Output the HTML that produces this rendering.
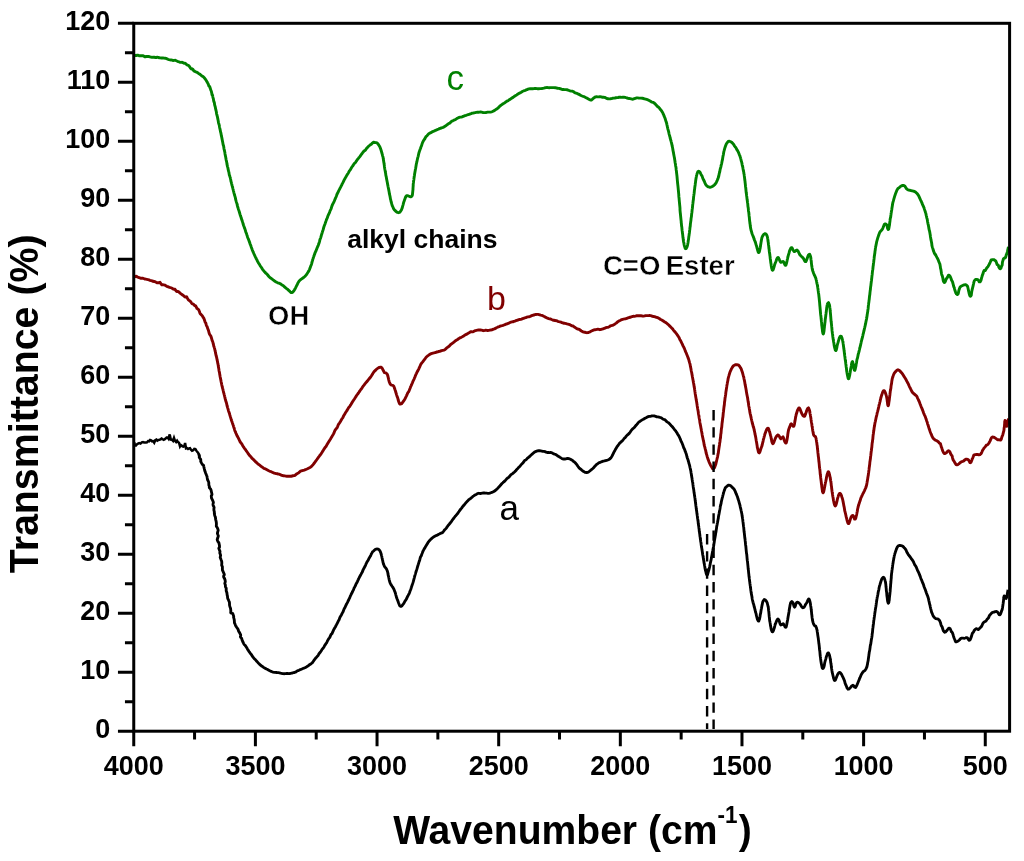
<!DOCTYPE html>
<html lang="en"><head><meta charset="utf-8"><title>FTIR spectra</title>
<style>html,body{margin:0;padding:0;background:#fff}body{width:1024px;height:861px;overflow:hidden}svg{display:block}</style>
</head><body>
<svg width="1024" height="861" viewBox="0 0 1024 861">
<rect width="1024" height="861" fill="#fff"/>
<g fill="none" stroke-linejoin="round" stroke-linecap="butt">
<path d="M134.2 55.0L134.8 55.3L135.5 55.5L136.3 55.6L137.2 55.2L138.2 55.2L139.2 55.8L140.4 55.8L141.5 55.6L142.7 55.7L143.9 56.2L145.1 56.9L146.3 56.5L147.5 56.4L148.7 56.5L149.9 56.8L151.0 57.1L152.0 57.4L153.0 57.3L154.1 57.2L155.2 57.5L156.2 57.5L157.3 57.3L158.3 57.4L159.3 57.8L160.2 57.9L161.2 58.0L162.2 58.0L163.1 58.0L164.1 58.1L165.1 58.2L166.0 58.4L167.0 58.8L168.0 59.3L169.0 59.6L170.0 59.8L171.1 60.0L172.1 60.2L173.2 60.5L174.2 60.4L175.3 60.3L176.3 60.8L177.4 61.3L178.4 61.6L179.4 62.0L180.3 62.4L181.3 62.4L182.1 62.3L183.0 62.7L184.0 63.2L185.0 63.3L185.9 63.8L186.8 64.8L187.6 65.2L188.4 65.4L189.2 66.2L189.9 67.2L190.7 68.4L191.5 69.0L192.2 68.8L193.0 69.4L193.9 70.9L194.9 71.4L195.8 71.8L196.7 72.1L197.6 72.7L198.5 73.4L199.4 73.9L200.2 74.5L201.0 75.2L201.8 75.9L202.5 76.3L203.3 76.8L204.0 77.5L204.7 78.3L205.3 79.1L205.9 79.9L206.5 80.9L207.1 82.1L207.7 83.1L208.1 83.7L208.5 84.9L208.9 86.1L209.2 86.3L209.6 86.4L209.9 87.4L210.3 88.4L210.6 89.4L210.9 90.4L211.3 91.1L211.7 92.8L212.0 94.9L212.4 94.8L212.6 95.6L212.8 96.8L213.0 97.8L213.3 98.6L213.5 99.7L213.7 101.0L213.9 101.8L214.1 101.9L214.4 102.9L214.6 104.7L214.8 105.5L215.0 106.0L215.3 107.1L215.5 108.2L215.7 109.2L215.9 110.2L216.2 111.2L216.4 112.3L216.6 113.8L216.9 115.0L217.1 115.6L217.3 116.4L217.6 117.7L217.8 118.9L218.0 119.8L218.2 120.7L218.4 121.9L218.6 123.1L218.8 123.8L219.0 124.4L219.3 125.4L219.5 126.7L219.7 127.8L219.9 128.6L220.1 129.5L220.3 130.6L220.5 131.7L220.8 132.6L221.0 133.6L221.2 134.7L221.4 135.9L221.6 136.7L221.8 137.6L222.0 138.6L222.2 139.7L222.4 140.7L222.6 141.8L222.8 142.8L223.0 143.9L223.2 144.9L223.4 145.4L223.6 146.0L223.8 147.3L224.0 148.8L224.3 149.9L224.5 150.9L224.7 151.8L224.9 152.7L225.0 153.7L225.2 154.8L225.4 155.8L225.6 156.7L225.8 157.7L226.0 158.9L226.2 160.1L226.4 160.9L226.6 161.7L226.8 162.7L226.9 163.6L227.1 164.6L227.3 165.6L227.5 166.6L227.8 167.5L228.0 168.6L228.2 169.6L228.4 170.5L228.6 171.4L228.9 172.3L229.1 173.6L229.3 174.9L229.6 175.6L229.8 176.2L230.0 176.9L230.3 177.7L230.5 178.8L230.8 180.2L231.0 181.4L231.3 182.4L231.5 183.3L231.8 184.4L232.0 185.4L232.3 186.3L232.5 187.2L232.8 188.2L233.0 189.1L233.3 190.1L233.5 191.1L233.8 192.1L234.0 193.1L234.3 194.1L234.5 195.0L234.8 195.9L235.1 196.9L235.4 197.9L235.6 199.2L235.9 200.4L236.2 201.3L236.4 202.1L236.7 203.0L237.0 203.8L237.2 204.9L237.5 206.2L237.8 207.3L238.1 208.1L238.3 208.9L238.6 209.8L238.9 210.6L239.2 211.5L239.5 212.5L239.8 213.6L240.1 214.7L240.4 215.6L240.7 216.4L241.0 217.3L241.3 218.3L241.6 219.2L241.9 220.2L242.3 221.1L242.6 222.2L242.9 223.2L243.2 224.3L243.6 225.5L243.9 226.3L244.2 227.1L244.5 228.0L244.9 228.8L245.2 229.8L245.5 230.9L245.8 232.0L246.2 232.9L246.5 233.7L246.8 234.7L247.2 235.8L247.5 236.9L247.9 238.0L248.3 238.9L248.7 239.8L249.0 240.8L249.4 241.9L249.8 242.9L250.1 244.0L250.5 244.9L250.9 245.8L251.2 246.9L251.6 248.0L252.0 249.1L252.3 250.0L252.7 250.9L253.0 251.7L253.4 252.4L253.7 253.2L254.2 254.4L254.7 255.5L255.2 256.6L255.7 257.5L256.1 258.5L256.6 259.4L257.1 260.3L257.5 261.2L258.0 262.1L258.5 263.0L259.0 263.8L259.5 264.6L260.1 265.6L260.7 266.5L261.3 267.3L261.9 268.2L262.5 269.3L263.2 270.2L263.8 271.0L264.5 271.7L265.1 272.4L265.8 273.1L266.5 273.7L267.3 274.5L268.1 275.5L268.9 276.5L269.7 277.4L270.6 278.1L271.4 278.6L272.2 279.2L273.0 279.8L273.8 280.4L274.6 281.0L275.7 281.7L276.7 282.3L277.7 282.8L278.7 283.1L279.7 283.4L280.7 284.0L281.6 284.7L282.5 285.2L283.4 285.7L284.2 286.6L285.1 287.4L285.9 288.0L286.6 288.6L287.4 289.2L288.4 290.1L289.3 290.9L290.2 291.8L291.1 292.5L292.0 292.6L292.6 292.2L293.2 291.6L293.9 290.8L294.5 289.8L295.1 288.7L295.7 287.6L296.2 286.5L296.7 285.6L297.3 284.6L297.6 283.8L297.9 283.0L298.4 282.2L299.0 281.2L299.7 280.5L300.4 279.8L301.3 279.1L302.2 278.5L303.1 277.8L304.0 277.2L304.8 276.5L305.4 275.9L306.1 275.1L306.6 274.4L307.2 273.5L307.8 272.5L308.4 271.7L308.9 270.8L309.5 269.5L309.8 268.6L310.2 267.7L310.5 266.8L310.8 265.9L311.2 265.1L311.5 264.1L311.8 263.0L312.1 261.8L312.5 260.5L312.8 259.4L313.1 258.5L313.4 257.5L313.8 256.5L314.1 255.5L314.5 254.4L314.9 253.4L315.2 252.5L315.6 251.7L316.0 250.9L316.3 250.1L316.7 249.0L317.1 247.9L317.5 247.0L317.9 246.2L318.3 245.2L318.7 244.1L319.0 243.2L319.3 242.3L319.6 241.3L319.8 240.2L320.1 239.1L320.5 238.3L320.8 237.4L321.1 236.3L321.4 235.1L321.7 234.2L322.0 233.3L322.3 232.3L322.6 231.2L323.0 230.2L323.3 229.1L323.6 228.0L323.9 226.9L324.2 226.0L324.5 225.2L324.9 224.2L325.2 223.4L325.5 222.4L325.9 221.3L326.2 220.4L326.5 219.6L326.8 218.9L327.2 218.1L327.5 217.2L327.8 216.3L328.2 215.3L328.6 214.4L329.0 213.6L329.5 212.6L330.0 211.1L330.3 210.3L330.7 209.7L331.0 209.0L331.4 207.7L331.8 206.4L332.2 205.4L332.6 204.4L333.0 203.6L333.4 203.0L333.8 202.1L334.3 201.1L334.7 200.0L335.2 198.9L335.6 197.8L336.1 196.8L336.5 195.7L336.9 194.5L337.4 193.5L337.8 192.7L338.3 191.8L338.7 190.8L339.2 189.9L339.6 189.1L340.0 188.3L340.5 187.4L341.0 186.4L341.5 185.4L342.0 184.3L342.5 183.4L343.0 182.4L343.5 181.3L344.0 180.3L344.5 179.4L345.0 178.5L345.5 177.6L346.0 176.8L346.5 175.9L347.0 175.0L347.5 174.2L348.0 173.5L348.5 172.6L349.0 171.6L349.5 170.7L350.0 170.2L350.6 169.4L351.2 168.2L351.8 167.1L352.4 166.4L352.9 165.8L353.5 164.8L354.1 163.8L354.7 163.1L355.3 162.6L355.9 161.8L356.5 160.9L357.1 160.0L357.6 159.3L358.2 158.6L358.8 157.8L359.4 157.1L360.0 156.3L360.7 155.3L361.4 154.4L362.1 153.5L362.8 152.5L363.5 151.6L364.2 150.9L365.0 150.5L365.7 149.7L366.4 148.7L367.0 147.9L367.7 147.2L368.3 146.5L368.9 146.0L369.5 145.5L370.0 145.1L371.3 144.3L372.4 143.1L373.3 142.3L374.2 142.3L375.0 142.5L376.0 142.6L377.0 142.9L377.8 143.7L378.8 145.1L379.1 145.6L379.5 146.2L379.9 146.9L380.3 148.0L380.7 149.1L381.1 150.3L381.5 151.6L381.8 152.8L382.2 154.1L382.5 155.3L382.7 156.1L382.9 156.7L383.1 157.4L383.2 158.4L383.4 159.4L383.5 160.4L383.7 161.4L383.8 162.3L384.0 163.2L384.1 164.1L384.3 165.2L384.4 166.4L384.6 167.7L384.8 169.0L385.0 170.1L385.2 170.9L385.3 171.8L385.5 172.7L385.7 173.8L385.8 175.0L386.0 175.8L386.2 176.6L386.4 177.7L386.6 178.9L386.8 180.0L387.0 181.0L387.2 182.0L387.4 183.1L387.6 184.1L387.8 185.2L388.0 186.3L388.2 187.2L388.4 188.2L388.6 189.1L388.8 190.1L389.0 191.2L389.2 192.3L389.4 193.7L389.7 195.0L389.9 195.8L390.1 196.8L390.3 198.0L390.5 199.2L390.8 200.2L391.0 201.2L391.2 202.1L391.5 202.9L391.7 203.9L392.0 204.8L392.2 205.6L392.5 206.2L393.1 207.5L393.7 208.9L394.3 209.8L395.0 210.4L395.7 211.1L396.3 211.7L396.9 212.1L397.5 212.4L398.5 212.7L399.5 212.4L400.4 211.5L401.2 210.2L401.6 209.5L401.9 208.6L402.3 207.6L402.6 206.4L403.0 205.1L403.3 203.8L403.6 202.6L403.9 201.7L404.2 200.9L404.5 200.1L405.0 198.7L405.4 197.5L405.9 196.5L406.4 195.9L407.0 195.6L407.9 195.7L409.0 196.2L410.1 196.7L411.2 196.7L412.0 195.9L412.2 195.4L412.4 194.9L412.5 194.1L412.6 193.2L412.7 192.1L412.8 191.2L412.9 190.2L413.0 189.3L413.0 188.3L413.1 187.0L413.2 185.6L413.2 184.6L413.3 183.6L413.5 182.2L413.6 180.9L413.8 180.0L413.9 179.2L414.0 178.2L414.2 177.1L414.3 176.1L414.5 175.2L414.6 174.1L414.8 172.9L415.0 171.8L415.2 170.8L415.3 169.9L415.5 169.0L415.7 167.9L415.9 166.8L416.1 165.6L416.3 164.3L416.5 163.3L416.7 162.5L416.9 161.7L417.1 160.8L417.3 159.8L417.5 158.8L417.8 157.5L418.1 156.6L418.3 155.7L418.6 154.3L418.9 153.0L419.2 152.0L419.5 151.1L419.8 150.2L420.1 149.4L420.5 148.5L420.8 147.5L421.1 146.6L421.5 145.8L421.8 144.8L422.1 143.8L422.5 142.8L423.0 141.6L423.6 140.5L424.1 139.7L424.7 139.0L425.2 138.0L425.8 136.9L426.4 136.3L427.0 135.7L427.7 134.9L428.3 134.2L429.0 133.5L429.9 133.1L430.8 132.7L431.7 132.1L432.7 131.6L433.7 131.2L434.7 130.8L435.6 130.3L436.6 129.9L437.5 129.5L438.5 129.1L439.4 128.7L440.3 128.3L441.2 128.0L442.1 127.7L443.1 127.3L444.0 126.9L445.0 126.3L445.8 125.8L446.6 125.2L447.5 124.5L448.3 123.8L449.1 123.4L450.0 122.9L450.9 122.0L451.8 121.2L452.8 120.8L453.8 120.3L454.6 119.9L455.5 119.5L456.4 118.9L457.3 118.3L458.3 117.8L459.2 117.4L460.2 117.1L461.2 117.1L462.1 116.9L463.1 116.4L464.1 116.0L465.0 115.7L466.0 115.4L467.0 115.0L468.1 114.6L469.1 114.3L470.1 114.0L471.1 113.6L472.2 113.1L473.2 113.0L474.2 112.8L475.2 112.6L476.2 112.4L477.3 112.3L478.4 112.3L479.5 112.1L480.6 111.9L481.6 112.1L482.7 112.5L483.8 112.6L484.8 112.6L485.8 112.5L486.7 112.3L487.5 112.1L488.8 112.1L489.8 112.1L490.6 112.1L491.5 111.9L492.5 111.5L493.8 110.9L494.4 110.4L495.2 109.9L495.9 109.4L496.7 108.9L497.5 108.4L498.4 107.6L499.3 106.7L500.2 105.9L501.1 105.1L502.0 104.5L503.0 103.8L504.0 103.3L505.0 102.6L505.8 101.9L506.6 101.3L507.5 100.9L508.4 100.4L509.3 99.8L510.2 99.2L511.2 98.6L512.1 97.9L513.1 97.4L514.0 96.7L514.9 96.0L515.8 95.4L516.7 94.9L517.6 94.3L518.4 93.8L519.2 93.3L520.0 92.9L521.2 92.2L522.3 91.5L523.4 91.0L524.4 90.6L525.3 90.3L526.2 89.9L527.2 89.5L528.1 89.2L529.0 88.9L530.0 88.8L531.0 88.8L531.9 88.7L532.9 88.7L533.8 88.6L534.8 88.5L535.7 88.4L536.7 88.6L537.7 88.7L538.8 88.7L540.0 88.6L540.9 88.6L541.8 88.5L542.8 88.3L543.8 88.1L544.9 87.8L546.0 87.6L547.0 87.5L548.1 87.6L549.2 87.7L550.2 87.6L551.2 87.6L552.2 87.6L553.1 87.6L554.0 87.6L555.3 87.7L556.4 87.9L557.5 88.3L558.6 88.4L559.6 88.5L560.6 88.8L561.5 89.2L562.4 89.5L563.4 89.5L564.6 89.6L565.8 89.6L566.9 89.7L568.0 90.1L569.1 90.5L570.1 90.9L571.2 91.1L572.2 91.1L573.2 91.5L574.2 92.2L575.1 92.8L576.1 93.1L577.1 93.4L578.0 93.9L579.0 94.4L580.0 94.9L581.0 95.5L582.1 96.0L583.2 96.4L584.2 96.7L585.2 97.2L586.1 97.7L586.9 98.1L588.3 98.9L589.4 99.6L590.4 100.0L591.4 100.0L592.2 99.4L593.0 98.7L593.7 98.0L594.6 97.4L595.6 96.9L596.6 96.8L597.7 96.9L598.8 96.9L600.0 96.6L601.3 96.9L602.5 97.3L603.6 97.3L604.7 97.4L605.8 97.9L606.9 98.5L608.0 98.8L609.2 98.9L610.3 98.8L611.4 98.6L612.5 98.3L613.6 98.1L614.8 98.0L615.9 97.8L617.0 97.6L618.1 97.5L619.2 97.3L620.4 97.2L621.6 97.4L622.7 97.3L623.9 97.2L625.0 97.4L626.0 97.7L627.1 98.0L628.1 98.3L629.1 98.5L630.1 98.7L631.1 98.9L632.2 99.2L633.2 99.1L634.3 98.7L635.4 98.3L636.6 97.9L637.7 97.9L638.9 98.1L640.0 98.1L641.1 98.1L642.2 98.2L643.3 98.5L644.5 98.8L645.6 99.1L646.7 99.4L647.8 99.8L648.7 100.3L649.6 100.8L650.5 101.3L651.3 101.8L652.2 102.2L653.1 102.4L654.0 102.8L654.8 103.6L655.6 104.4L656.4 105.3L657.2 106.2L657.9 106.7L658.6 107.2L659.4 108.1L660.0 109.1L660.7 109.8L661.3 110.5L661.9 111.4L662.4 112.2L662.9 113.2L663.3 114.2L663.8 115.2L664.1 116.1L664.5 117.0L664.9 117.9L665.2 118.8L665.6 120.1L665.9 121.1L666.1 121.8L666.4 122.5L666.7 123.6L666.9 124.6L667.2 125.8L667.4 127.1L667.7 128.1L667.9 129.1L668.2 130.1L668.5 131.1L668.8 132.4L669.0 133.5L669.2 134.4L669.5 135.3L669.7 136.2L670.0 137.2L670.2 138.2L670.5 139.1L670.7 140.1L671.0 140.9L671.2 141.8L671.5 142.8L671.7 143.9L672.0 145.0L672.2 146.2L672.5 147.5L672.7 148.3L672.8 149.3L673.0 150.4L673.2 151.4L673.4 152.4L673.6 153.4L673.7 154.3L673.9 155.3L674.1 156.2L674.3 157.2L674.5 158.1L674.6 159.1L674.8 160.3L675.0 161.5L675.1 162.5L675.3 163.4L675.5 164.5L675.6 165.7L675.8 166.6L676.0 167.5L676.1 168.7L676.2 169.9L676.4 171.0L676.5 172.1L676.6 173.1L676.7 173.8L676.8 174.6L676.9 175.5L677.0 176.4L677.1 177.5L677.2 178.6L677.3 179.8L677.4 181.0L677.5 182.0L677.6 183.0L677.7 183.9L677.8 184.8L677.9 185.6L678.0 186.6L678.1 187.6L678.2 188.7L678.3 189.8L678.4 190.7L678.5 191.7L678.6 192.8L678.7 193.9L678.8 195.0L678.8 195.9L678.9 196.9L679.0 197.7L679.1 198.7L679.2 199.8L679.3 201.0L679.4 202.1L679.5 203.1L679.6 204.1L679.7 205.1L679.8 206.2L679.9 207.2L680.0 208.5L680.0 209.8L680.1 211.0L680.2 212.1L680.3 213.0L680.4 213.8L680.5 214.8L680.6 215.8L680.7 216.8L680.8 217.9L680.9 218.9L681.0 219.8L681.1 220.6L681.2 221.5L681.2 222.3L681.4 223.7L681.5 225.1L681.6 226.1L681.8 227.0L681.9 228.2L682.0 229.3L682.1 230.4L682.3 231.5L682.4 232.6L682.5 233.6L682.7 234.7L682.8 235.8L682.9 236.8L683.0 237.8L683.2 238.8L683.3 239.8L683.4 240.6L683.5 241.3L683.6 242.0L683.8 242.6L684.1 244.5L684.4 245.9L684.8 247.1L685.1 248.0L685.4 248.6L685.8 248.7L686.1 248.6L686.4 248.2L686.8 247.4L687.2 246.3L687.6 244.8L688.0 242.7L688.1 242.0L688.2 241.2L688.3 240.4L688.5 239.6L688.6 238.7L688.7 237.8L688.8 236.8L689.0 235.8L689.1 234.9L689.2 234.0L689.4 232.9L689.5 231.9L689.6 230.7L689.8 229.5L689.9 228.4L690.0 227.4L690.2 226.4L690.3 225.3L690.4 223.9L690.6 222.6L690.7 221.7L690.9 220.6L691.0 219.4L691.1 218.4L691.2 217.7L691.4 216.8L691.5 215.7L691.6 214.6L691.7 213.6L691.9 212.5L692.0 211.4L692.1 210.4L692.2 209.3L692.4 208.2L692.5 207.1L692.6 206.0L692.7 204.7L692.9 203.4L693.0 202.5L693.1 201.6L693.2 200.6L693.4 199.6L693.5 198.4L693.6 197.1L693.7 196.2L693.8 195.5L693.9 194.6L694.1 193.7L694.2 192.7L694.3 191.6L694.4 190.5L694.5 189.7L694.7 188.5L694.8 187.2L695.0 186.0L695.2 184.7L695.3 183.5L695.5 182.5L695.6 181.3L695.8 180.1L695.9 179.0L696.1 178.2L696.2 177.4L696.4 176.5L696.5 175.8L696.7 175.1L696.8 174.5L697.0 173.9L697.8 171.8L698.6 171.3L699.5 171.7L700.0 172.2L700.4 173.0L700.9 174.1L701.4 175.1L702.0 175.9L702.5 177.4L702.9 178.6L703.4 179.5L703.9 180.5L704.4 181.5L704.8 182.6L705.3 183.7L705.8 184.6L706.2 185.2L707.3 186.3L708.4 186.9L709.5 187.2L710.5 187.2L711.6 186.9L712.7 186.2L713.8 185.5L714.4 185.0L715.0 184.3L715.7 183.4L716.3 182.4L716.9 181.2L717.5 179.8L717.8 179.1L718.0 178.5L718.2 177.9L718.5 177.1L718.8 175.9L719.0 174.8L719.2 173.7L719.5 172.6L719.8 171.5L720.0 170.3L720.2 169.2L720.5 168.1L720.8 167.1L721.0 166.1L721.2 165.1L721.5 164.1L721.7 163.2L721.9 162.2L722.1 161.1L722.4 159.9L722.6 158.7L722.8 157.4L723.0 156.2L723.3 155.0L723.5 153.8L723.7 152.6L723.9 151.4L724.2 150.4L724.4 149.6L724.6 148.8L724.8 148.1L725.0 147.5L725.6 145.8L726.1 144.4L726.6 143.5L727.1 142.8L727.7 142.1L728.2 141.5L729.4 141.2L730.7 141.8L732.0 142.6L732.6 143.2L733.2 143.9L733.8 144.7L734.4 145.8L735.1 146.7L735.7 147.4L736.2 148.3L736.7 149.3L737.2 150.2L737.7 150.9L738.2 151.7L738.6 152.7L739.1 154.0L739.5 155.1L740.0 156.2L740.2 157.0L740.5 157.7L740.7 158.6L741.0 159.7L741.2 160.7L741.5 161.5L741.7 162.3L742.0 163.6L742.2 165.0L742.4 165.8L742.7 166.7L742.9 167.9L743.1 169.1L743.3 170.1L743.5 171.2L743.8 172.5L743.9 173.6L744.1 174.2L744.2 174.9L744.3 176.0L744.5 177.3L744.6 178.3L744.7 179.1L744.8 180.1L745.0 181.2L745.1 182.3L745.2 183.2L745.3 184.1L745.4 185.2L745.5 186.4L745.7 187.5L745.8 188.5L745.9 189.5L746.0 190.6L746.1 191.6L746.2 192.6L746.4 193.6L746.5 194.6L746.6 195.7L746.8 196.7L746.9 197.8L747.0 198.7L747.1 199.6L747.3 200.5L747.4 201.5L747.5 202.5L747.7 203.5L747.8 204.7L747.9 205.9L748.0 206.9L748.2 207.7L748.3 208.7L748.4 209.8L748.5 210.9L748.6 211.7L748.8 212.5L748.9 213.5L749.0 214.5L749.1 215.9L749.3 217.2L749.4 218.4L749.5 219.6L749.6 220.5L749.7 221.3L749.8 222.2L749.9 223.1L750.1 224.1L750.2 225.1L750.3 226.1L750.5 227.1L750.6 228.1L750.8 228.8L751.0 230.0L751.4 231.2L751.7 232.4L752.0 233.5L752.4 234.6L752.8 235.4L753.1 236.2L753.4 237.1L753.8 238.0L754.1 239.1L754.5 240.1L754.9 241.0L755.2 241.9L755.6 242.9L755.9 244.0L756.2 245.0L756.6 246.2L756.9 247.5L757.3 248.9L757.6 250.0L757.9 251.1L758.2 252.0L758.5 252.5L758.9 252.6L759.3 251.9L759.6 250.6L760.0 248.8L760.2 248.0L760.3 247.1L760.5 246.1L760.6 245.1L760.8 243.9L761.0 242.6L761.2 241.4L761.4 240.3L761.6 239.2L761.8 238.2L762.0 237.3L762.7 235.9L763.5 234.7L764.3 234.0L765.0 233.7L765.7 233.9L766.3 234.4L766.9 235.5L767.5 237.4L767.6 238.2L767.8 239.1L767.9 240.1L768.0 241.1L768.2 242.0L768.3 242.8L768.4 243.7L768.5 244.7L768.7 245.8L768.8 247.0L768.9 248.1L769.1 249.1L769.2 250.2L769.3 251.4L769.5 252.5L769.6 253.4L769.8 254.4L769.9 255.6L770.1 256.9L770.2 258.2L770.4 259.5L770.6 260.8L770.7 262.0L770.9 263.2L771.1 264.3L771.2 265.4L771.4 266.6L771.6 267.5L771.7 268.2L771.9 268.8L772.1 269.4L772.2 269.9L772.7 270.3L773.1 269.9L773.5 268.7L774.0 267.1L774.4 265.6L774.8 264.2L775.2 263.2L775.7 262.0L776.2 260.7L776.6 259.3L777.1 258.3L777.5 257.7L778.0 257.4L778.6 257.9L779.1 259.2L779.7 260.5L780.2 261.6L780.8 262.3L782.0 261.8L783.2 261.5L783.9 262.4L784.5 263.9L785.1 265.2L785.8 265.3L786.0 264.9L786.2 264.2L786.5 263.3L786.7 262.3L787.0 261.1L787.2 260.0L787.5 258.8L787.7 257.8L788.0 256.7L788.2 255.7L788.6 254.4L789.0 253.2L789.3 251.9L789.7 250.5L790.1 249.6L790.5 248.8L790.9 248.0L791.2 247.6L791.9 247.7L792.5 248.8L793.1 250.2L793.7 251.0L794.2 251.6L795.2 251.4L796.1 250.4L797.0 250.0L797.6 250.5L798.2 251.4L798.8 252.6L799.4 254.0L800.0 255.0L800.8 255.8L801.5 256.5L802.3 257.2L803.0 257.9L803.7 258.9L804.4 260.4L805.1 261.5L805.8 261.6L806.2 261.0L806.6 260.0L807.1 258.8L807.5 257.4L808.0 256.0L808.4 255.1L808.8 254.7L809.7 254.3L810.5 256.3L810.6 256.9L810.8 257.7L810.9 258.6L811.0 259.7L811.2 260.7L811.3 261.7L811.4 263.1L811.6 264.6L811.7 265.6L811.9 266.6L812.1 268.0L812.3 269.2L812.5 270.0L812.8 271.0L813.2 272.0L813.5 273.0L813.9 274.0L814.3 275.0L814.8 275.9L815.2 276.8L815.6 277.7L815.9 278.6L816.2 279.8L816.5 280.8L816.6 281.7L816.8 282.6L817.0 283.6L817.2 284.4L817.4 285.2L817.5 286.1L817.7 287.0L817.8 288.0L818.0 289.1L818.1 290.2L818.3 291.3L818.4 292.4L818.6 293.6L818.8 294.9L818.9 295.8L819.0 296.8L819.1 297.7L819.2 298.7L819.3 299.7L819.4 300.7L819.5 301.6L819.6 302.5L819.7 303.8L819.8 305.1L819.9 306.2L820.0 307.2L820.1 308.3L820.2 309.4L820.3 310.5L820.4 311.6L820.5 312.8L820.6 314.1L820.7 314.9L820.8 315.5L820.9 316.3L821.0 317.2L821.1 318.5L821.3 320.1L821.4 321.4L821.6 322.6L821.7 324.3L821.8 325.6L822.0 326.6L822.1 327.9L822.3 329.1L822.4 330.3L822.5 331.4L822.7 332.3L822.8 333.0L823.0 333.5L823.1 333.8L823.2 333.9L823.4 333.8L823.5 333.4L823.7 332.8L823.8 332.0L824.0 331.1L824.1 330.0L824.2 328.8L824.4 327.5L824.5 326.1L824.7 324.8L824.8 323.4L825.0 322.3L825.1 321.1L825.2 319.8L825.4 318.6L825.5 317.6L825.7 316.3L825.8 315.1L826.0 313.9L826.1 312.8L826.3 311.6L826.4 310.4L826.6 309.1L826.7 307.8L826.9 306.8L827.0 305.8L827.2 305.0L827.3 304.3L827.5 303.8L828.5 302.6L829.5 305.1L829.6 305.7L829.7 306.5L829.8 307.3L829.9 307.9L830.0 308.5L830.1 309.7L830.2 311.0L830.3 311.9L830.4 312.8L830.5 313.9L830.6 315.1L830.7 316.4L830.8 317.6L830.9 318.9L831.0 320.1L831.1 321.3L831.3 322.5L831.4 323.6L831.5 324.7L831.6 325.7L831.7 326.7L831.8 327.5L831.9 328.6L832.0 330.2L832.2 331.6L832.3 332.5L832.4 333.4L832.6 334.5L832.7 335.6L832.8 336.7L833.0 337.8L833.1 338.6L833.2 339.4L833.4 340.2L833.5 341.1L833.6 341.8L833.8 342.6L834.0 344.0L834.2 345.7L834.5 347.0L834.7 347.9L835.0 348.9L835.2 349.8L835.5 350.4L835.8 350.6L836.0 350.4L836.3 349.8L836.6 348.7L836.9 347.2L837.1 345.8L837.4 344.7L837.7 343.7L838.0 342.7L838.4 341.2L838.8 339.8L839.1 338.7L839.5 337.6L839.9 336.8L840.2 336.3L840.8 336.1L841.4 336.5L841.9 337.7L842.5 340.0L842.6 340.6L842.8 341.3L842.9 342.1L843.1 343.0L843.2 344.0L843.4 345.2L843.5 346.3L843.7 347.5L843.8 348.6L844.0 349.7L844.1 350.8L844.3 352.0L844.4 353.3L844.6 354.6L844.7 355.7L844.9 356.8L845.0 357.7L845.1 358.7L845.3 359.8L845.4 360.8L845.6 361.8L845.7 362.8L845.8 363.9L846.0 365.0L846.1 366.0L846.2 367.0L846.4 368.1L846.5 369.2L846.6 370.2L846.7 371.1L846.9 372.0L847.0 372.7L847.3 374.4L847.6 375.9L847.9 377.2L848.1 378.2L848.4 378.8L848.8 378.7L848.9 378.4L849.1 377.7L849.3 376.8L849.6 375.7L849.8 374.6L850.0 373.3L850.2 372.2L850.4 370.9L850.6 369.4L850.8 368.4L851.0 367.7L851.3 365.9L851.6 363.8L851.9 362.5L852.2 361.8L852.5 361.6L852.7 362.1L853.0 363.2L853.3 364.7L853.5 366.3L853.8 367.9L854.1 369.4L854.4 370.3L854.8 370.4L855.0 369.9L855.2 369.3L855.4 368.3L855.6 367.5L855.8 366.7L856.0 365.5L856.2 364.0L856.5 362.8L856.7 361.4L856.9 359.9L857.2 358.8L857.5 358.0L857.7 357.0L857.9 355.9L858.1 354.9L858.3 354.0L858.6 353.0L858.8 352.4L859.0 351.7L859.2 350.7L859.5 349.5L859.7 348.4L860.0 347.5L860.2 346.5L860.5 345.4L860.7 344.3L861.0 343.1L861.2 342.0L861.5 340.8L861.8 339.7L862.0 339.0L862.2 338.2L862.4 337.5L862.6 336.7L862.8 335.8L863.0 334.7L863.3 333.7L863.5 332.7L863.7 331.7L864.0 330.8L864.2 329.9L864.4 328.8L864.7 327.6L864.9 326.7L865.1 325.9L865.3 324.9L865.6 323.7L865.8 322.6L866.0 321.5L866.2 320.5L866.4 319.6L866.6 318.7L866.8 317.6L866.9 316.6L867.1 315.6L867.2 314.5L867.4 313.6L867.5 312.7L867.7 311.8L867.8 310.9L867.9 309.9L868.1 309.0L868.2 307.9L868.3 306.7L868.4 305.4L868.6 304.2L868.7 303.1L868.8 302.5L868.9 302.0L869.0 300.8L869.2 299.6L869.3 298.5L869.4 297.5L869.5 296.5L869.6 295.6L869.8 294.6L869.9 293.5L870.0 292.4L870.1 291.6L870.2 290.7L870.4 289.5L870.5 288.2L870.6 287.3L870.7 286.4L870.9 285.3L871.0 284.2L871.1 283.3L871.2 282.6L871.3 281.6L871.5 280.4L871.6 279.3L871.7 278.5L871.8 277.6L871.9 276.6L872.0 275.6L872.2 274.4L872.3 273.1L872.4 272.2L872.5 271.3L872.6 270.4L872.8 269.5L872.9 268.6L873.0 267.6L873.1 266.4L873.3 265.3L873.4 264.2L873.5 263.2L873.7 262.2L873.8 261.1L873.9 259.9L874.1 258.7L874.2 257.4L874.3 256.4L874.5 255.4L874.6 254.4L874.8 253.4L874.9 252.3L875.0 251.3L875.2 250.3L875.3 249.3L875.4 248.3L875.6 247.3L875.7 246.5L875.9 245.9L876.0 245.3L876.3 243.7L876.6 242.2L876.9 241.0L877.2 239.9L877.5 238.8L877.8 237.8L878.1 236.9L878.4 236.1L878.7 235.3L879.0 234.5L879.2 233.7L879.9 232.2L880.6 231.2L881.3 230.5L881.9 229.8L882.5 229.0L883.0 227.8L883.5 226.5L883.9 225.4L884.3 224.5L884.8 223.9L885.8 223.9L886.8 225.0L887.2 226.4L887.6 228.4L888.1 229.5L888.5 229.4L888.7 229.0L888.8 228.4L889.0 227.8L889.1 226.9L889.3 226.0L889.5 224.9L889.6 223.7L889.8 222.3L890.0 220.9L890.1 219.6L890.3 218.4L890.5 217.5L890.7 216.9L890.8 215.8L891.0 214.5L891.1 213.4L891.3 212.5L891.4 211.5L891.6 210.5L891.8 209.4L891.9 208.3L892.1 207.2L892.3 206.0L892.5 204.8L892.6 203.9L892.8 202.9L893.0 202.2L893.3 201.2L893.6 200.0L893.9 198.8L894.2 197.8L894.5 196.8L894.8 195.9L895.1 195.0L895.4 194.1L895.7 193.3L896.0 192.5L896.6 190.9L897.2 189.7L897.8 188.7L898.5 188.1L899.2 187.6L900.3 186.7L901.4 185.9L902.6 185.5L903.8 185.5L904.4 185.8L905.1 186.4L905.7 187.4L906.4 188.6L907.1 189.3L908.0 189.8L908.9 190.1L910.0 190.3L911.1 190.6L912.3 190.9L913.4 191.2L914.5 191.5L915.5 192.1L916.2 192.7L916.8 193.3L917.4 193.9L917.9 194.6L918.4 195.3L918.9 196.2L919.4 197.5L920.0 198.7L920.5 199.9L920.9 200.7L921.3 201.5L921.7 202.3L922.1 203.4L922.5 204.4L922.9 205.3L923.3 206.2L923.7 207.1L924.1 208.0L924.4 209.1L924.8 210.3L925.2 211.4L925.5 212.5L925.8 213.3L926.0 214.2L926.2 215.3L926.5 216.4L926.7 217.4L926.9 218.2L927.2 219.1L927.4 220.4L927.6 221.7L927.8 222.8L928.0 223.8L928.2 224.5L928.4 225.4L928.6 226.6L928.8 227.9L929.0 228.9L929.2 230.0L929.5 230.9L929.7 231.9L929.9 233.0L930.1 234.2L930.3 235.3L930.4 236.4L930.6 237.6L930.8 238.8L931.0 239.9L931.2 240.8L931.4 241.7L931.6 242.7L931.8 244.0L931.9 245.3L932.1 246.1L932.3 246.9L932.5 247.6L932.9 248.8L933.2 250.0L933.6 251.2L934.0 252.1L934.3 253.0L934.7 253.8L935.1 254.4L935.5 254.5L935.9 255.3L936.4 256.4L936.9 257.4L937.4 258.3L937.9 259.2L938.4 260.4L938.8 261.6L939.2 262.5L939.5 263.2L939.8 263.9L940.0 264.7L940.3 266.4L940.5 268.1L940.7 268.8L940.9 269.5L941.1 270.9L941.3 272.2L941.5 273.5L941.8 274.8L942.0 275.4L942.3 275.8L942.6 277.1L942.9 278.4L943.1 279.9L943.4 281.1L943.7 281.7L944.0 282.2L944.2 282.5L944.8 282.4L945.2 281.6L945.8 280.1L946.2 278.8L946.8 278.4L947.6 277.1L948.4 275.3L949.2 275.3L949.6 275.6L950.0 276.2L950.4 277.0L950.8 277.9L951.2 279.0L951.6 280.3L952.0 280.9L952.5 281.8L952.8 283.0L953.2 284.4L953.5 285.8L953.9 287.0L954.3 287.7L954.6 289.1L955.0 290.6L955.4 291.7L955.7 292.7L956.1 293.4L956.4 293.9L956.8 294.2L957.3 294.5L957.7 294.4L958.2 293.7L958.6 291.7L959.0 290.0L959.5 288.5L960.0 287.3L961.0 286.2L962.1 285.7L963.2 285.2L964.2 284.9L965.4 284.7L966.5 285.1L967.5 286.3L967.8 287.2L968.2 289.0L968.5 290.7L968.8 291.8L969.1 293.3L969.5 294.7L969.8 295.6L970.1 296.2L970.5 296.3L970.7 296.1L971.0 295.8L971.3 295.1L971.5 293.3L971.8 291.3L972.1 289.9L972.4 288.6L972.6 287.8L972.9 286.6L973.2 285.3L973.5 284.0L973.7 282.9L974.0 281.8L974.2 281.0L975.1 279.8L976.0 279.4L976.8 279.4L977.5 279.6L978.2 280.0L978.7 280.9L979.3 281.9L980.0 281.9L980.3 281.6L980.6 281.1L980.9 280.6L981.3 279.2L981.6 277.7L982.0 276.5L982.3 275.4L982.7 274.4L983.1 273.4L983.5 271.9L984.1 270.5L984.7 270.7L985.4 270.5L986.0 269.2L986.7 268.0L987.4 267.3L988.0 266.5L988.5 265.6L989.1 264.5L989.6 263.5L990.2 262.3L990.7 260.9L991.2 259.9L991.7 259.8L992.2 259.8L993.2 259.7L994.1 259.8L995.0 260.4L996.0 261.4L996.5 262.7L997.1 264.6L997.7 264.7L998.3 265.3L998.9 267.2L999.5 268.2L1000.0 268.7L1000.5 268.7L1000.9 268.2L1001.2 267.3L1001.5 266.1L1001.9 265.8L1002.2 265.0L1002.4 262.5L1002.7 261.2L1003.0 260.5L1003.2 259.5L1003.5 258.7L1004.5 258.1L1005.5 257.6L1005.8 256.8L1006.1 255.6L1006.4 254.5L1006.8 254.0L1007.1 253.0L1007.5 251.4L1007.8 249.9L1008.1 248.5L1008.3 247.5L1008.5 246.9" stroke="#008000" stroke-width="2.9"/>
<path d="M134.2 276.9L134.9 276.6L135.7 276.2L136.7 276.5L137.8 277.2L138.9 277.5L140.1 278.0L141.3 278.4L142.5 278.1L143.6 278.5L144.7 279.0L145.7 279.2L146.8 279.4L147.9 279.6L149.0 279.9L150.0 280.3L151.1 280.6L152.1 280.9L153.0 281.3L154.1 281.5L155.1 281.7L156.1 282.3L157.0 282.8L158.0 282.8L158.9 282.7L160.0 282.3L160.9 283.6L161.8 284.8L162.8 284.8L163.8 284.9L164.8 285.1L165.8 285.7L166.8 286.3L167.7 286.7L168.6 287.0L169.6 287.4L170.6 287.7L171.5 287.9L172.4 288.4L173.3 289.1L174.1 289.2L175.0 289.3L175.9 290.6L176.7 291.5L177.6 291.3L178.4 291.6L179.3 292.4L180.1 293.1L181.0 293.8L181.8 294.4L182.6 295.1L183.4 295.6L184.2 296.2L185.0 297.1L185.8 297.1L186.6 296.7L187.4 298.2L188.2 299.6L189.0 300.3L189.8 300.9L190.6 301.6L191.4 302.8L192.2 303.8L192.9 303.9L193.6 304.3L194.4 305.3L195.1 305.8L195.7 306.0L196.4 307.3L197.0 308.5L197.6 308.8L198.3 309.4L198.9 310.2L199.5 311.7L200.1 313.6L200.7 314.1L201.3 314.7L201.9 315.4L202.5 316.2L203.0 317.2L203.5 317.8L203.9 318.4L204.3 319.5L204.7 320.7L205.1 322.1L205.4 322.6L205.8 323.0L206.2 324.7L206.6 325.8L207.0 326.3L207.3 327.2L207.7 328.6L208.1 329.4L208.4 330.2L208.9 332.1L209.3 333.6L209.6 334.3L210.0 334.8L210.3 335.3L210.7 335.9L211.0 336.5L211.4 337.8L211.8 339.1L212.1 340.3L212.5 341.2L212.9 342.2L213.2 343.7L213.6 345.2L213.8 346.3L214.1 346.9L214.3 347.6L214.6 348.5L214.8 349.5L215.0 350.5L215.3 351.6L215.5 352.9L215.8 354.1L216.0 355.1L216.2 356.0L216.5 356.9L216.7 357.9L216.9 358.8L217.1 359.9L217.4 361.1L217.6 362.3L217.8 363.4L218.0 364.3L218.2 365.2L218.3 366.1L218.5 367.2L218.7 368.3L218.9 369.4L219.0 370.5L219.2 371.4L219.4 372.3L219.6 373.3L219.7 374.3L219.9 375.3L220.1 376.5L220.3 377.5L220.5 378.4L220.7 379.4L220.9 380.5L221.1 381.6L221.3 382.5L221.5 383.4L221.7 384.6L222.0 385.8L222.2 386.7L222.4 387.5L222.6 388.4L222.9 389.3L223.1 390.3L223.4 391.4L223.6 392.5L223.9 393.4L224.1 394.3L224.4 395.3L224.6 396.3L224.9 397.4L225.1 398.4L225.4 399.5L225.7 400.6L225.9 401.4L226.2 402.1L226.5 403.2L226.8 404.4L227.0 405.5L227.3 406.5L227.6 407.6L227.9 408.6L228.2 409.7L228.5 410.8L228.8 411.8L229.1 412.6L229.5 413.6L229.8 414.9L230.1 415.9L230.4 416.9L230.7 417.8L231.0 418.8L231.3 419.8L231.6 420.7L231.9 421.5L232.2 422.4L232.6 423.5L232.9 424.5L233.3 425.5L233.6 426.6L233.9 427.6L234.3 428.7L234.6 429.8L234.9 430.8L235.3 431.6L235.6 432.4L236.0 433.3L236.4 434.1L236.7 435.0L237.1 435.8L237.6 436.7L238.0 437.4L238.5 438.4L239.0 439.4L239.5 440.5L240.0 441.6L240.6 442.5L241.1 443.1L241.7 443.8L242.3 444.9L242.9 446.0L243.5 446.9L244.1 447.8L244.7 448.6L245.3 449.4L245.9 450.3L246.5 451.2L247.1 452.0L247.8 452.9L248.4 453.9L249.1 454.8L249.7 455.6L250.4 456.3L251.1 457.1L251.7 457.9L252.4 458.6L253.1 459.2L253.8 459.9L254.5 460.6L255.2 461.4L255.8 462.0L256.5 462.5L257.3 463.3L258.1 464.0L258.9 464.6L259.7 465.2L260.5 465.8L261.3 466.5L262.2 467.1L263.0 467.7L263.8 468.3L264.7 468.6L265.6 469.0L266.5 469.5L267.4 470.0L268.3 470.5L269.3 471.0L270.2 471.4L271.2 471.7L272.2 472.2L273.2 472.7L274.2 473.1L275.2 473.3L276.2 473.6L277.2 473.7L278.1 474.0L279.0 474.2L280.2 474.6L281.3 475.1L282.5 475.5L283.6 475.7L284.7 475.9L285.8 476.1L286.8 476.2L287.8 476.2L288.7 476.2L289.5 476.3L291.1 476.3L292.1 476.0L293.1 475.7L294.2 475.6L295.0 475.4L295.8 474.7L296.6 473.9L297.5 473.4L298.4 473.0L299.4 472.1L300.5 471.2L301.4 470.9L302.3 470.6L303.3 470.3L304.3 470.1L305.3 469.7L306.4 469.2L307.5 468.7L308.5 468.2L309.5 467.7L310.5 467.2L311.2 466.6L311.8 466.0L312.5 465.3L313.1 464.6L313.7 463.8L314.4 463.0L315.0 462.1L315.6 461.2L316.3 460.3L316.9 459.5L317.5 458.7L318.2 457.7L318.8 456.8L319.5 455.9L320.0 455.2L320.6 454.5L321.1 453.8L321.6 453.0L322.2 452.2L322.7 451.2L323.3 450.4L323.8 449.4L324.4 448.6L324.9 447.7L325.5 447.0L326.1 446.4L326.6 445.4L327.2 444.3L327.8 443.4L328.3 442.5L328.9 441.5L329.5 440.6L330.0 439.8L330.5 439.0L331.0 438.1L331.5 437.2L332.0 436.4L332.5 435.6L333.0 434.8L333.5 433.9L334.0 432.9L334.5 431.6L335.0 430.3L335.5 429.6L336.0 429.0L336.5 428.4L337.0 427.8L337.5 426.8L338.0 425.4L338.5 424.4L339.0 423.7L339.5 423.0L340.0 422.2L340.5 421.5L341.0 420.4L341.6 419.4L342.1 418.6L342.7 417.9L343.2 416.8L343.7 415.7L344.3 414.7L344.8 413.9L345.3 413.1L345.8 412.3L346.3 411.5L346.9 410.7L347.4 409.8L347.9 408.9L348.4 408.1L348.9 407.3L349.5 406.7L350.0 405.9L350.5 405.1L351.1 404.2L351.6 403.3L352.2 402.4L352.7 401.5L353.3 400.6L353.8 399.8L354.4 399.0L354.9 398.2L355.5 397.3L356.1 396.4L356.6 395.5L357.2 394.7L357.7 394.0L358.3 393.3L358.8 392.5L359.4 391.7L359.9 390.8L360.5 390.0L361.1 389.2L361.8 388.4L362.4 387.3L363.1 386.2L363.8 385.4L364.4 384.6L365.1 383.7L365.8 382.8L366.4 382.1L367.1 381.4L367.7 380.6L368.3 379.8L368.9 379.0L369.5 378.4L370.0 377.9L370.5 377.2L371.3 376.0L372.1 374.7L372.8 373.6L373.4 372.6L374.0 371.8L374.5 371.2L375.1 370.7L375.7 370.1L376.2 369.5L377.3 368.6L378.4 367.9L379.4 367.4L380.4 367.2L381.2 367.3L382.0 368.1L382.7 369.3L383.3 370.5L383.9 371.7L384.5 372.6L385.8 372.9L387.0 373.8L387.3 374.4L387.6 375.1L387.8 376.0L388.1 377.0L388.4 378.4L388.7 379.8L389.0 380.9L389.3 382.0L389.7 382.9L390.0 383.6L390.9 384.8L391.8 385.1L392.8 385.3L393.8 386.3L394.1 387.1L394.4 388.1L394.8 389.0L395.1 390.0L395.5 391.1L395.8 392.3L396.2 393.5L396.5 394.6L396.9 395.8L397.2 396.8L397.5 397.5L397.9 398.6L398.3 400.3L398.7 401.6L399.1 402.7L399.5 403.5L399.9 404.0L400.5 404.0L401.0 403.9L401.6 403.6L402.2 403.0L402.8 402.1L403.5 401.1L404.2 400.1L404.9 399.0L405.6 397.6L406.2 396.4L406.6 395.6L407.0 394.7L407.4 393.7L407.8 392.8L408.2 392.2L408.7 391.7L409.1 390.7L409.5 389.7L409.9 388.7L410.3 387.7L410.7 386.6L411.2 385.6L411.6 384.7L412.0 383.7L412.5 382.6L412.9 381.5L413.3 380.6L413.7 379.8L414.2 378.8L414.6 377.8L415.1 376.6L415.5 375.5L415.9 374.5L416.4 373.6L416.8 372.7L417.3 371.7L417.8 370.8L418.2 370.0L418.7 369.1L419.1 368.2L419.6 367.2L420.0 366.2L420.6 364.8L421.2 363.7L421.9 362.8L422.5 362.1L423.1 361.3L423.8 360.4L424.4 359.6L425.0 358.8L425.6 358.0L426.2 357.2L426.9 356.5L427.5 356.0L428.4 355.4L429.3 354.7L430.3 354.1L431.2 353.7L432.1 353.4L433.0 353.1L434.0 352.9L435.0 352.7L435.9 352.3L436.8 352.0L437.7 351.8L438.7 351.5L439.6 351.3L440.6 351.0L441.6 350.7L442.7 350.4L443.8 350.1L444.5 349.8L445.2 349.4L446.0 348.7L446.7 347.9L447.5 347.3L448.3 346.9L449.1 346.2L450.0 345.2L450.8 344.4L451.6 343.8L452.5 343.2L453.3 342.6L454.2 341.9L455.0 341.2L455.9 340.5L456.7 340.0L457.6 339.5L458.6 338.7L459.5 338.1L460.4 337.7L461.3 337.3L462.3 336.8L463.2 336.3L464.1 335.6L465.0 335.0L465.8 334.6L466.7 334.2L467.5 333.7L468.6 333.1L469.6 332.4L470.6 331.8L471.6 331.8L472.6 331.9L473.5 331.5L474.5 330.9L475.5 330.6L476.5 330.4L477.5 330.2L478.5 330.0L479.5 330.0L480.5 330.0L481.6 330.1L482.7 330.5L483.7 330.7L484.8 330.4L485.8 330.1L486.8 330.3L487.8 330.5L488.8 330.4L489.8 330.2L490.8 330.0L491.7 329.8L492.6 329.5L493.5 329.2L494.4 328.9L495.4 328.4L496.4 327.8L497.5 327.3L498.3 326.9L499.2 326.6L500.1 326.2L501.1 325.9L502.0 325.7L503.0 325.4L504.0 325.0L505.0 324.6L506.0 324.2L507.0 323.8L508.0 323.5L509.0 323.1L510.0 322.5L511.0 322.1L511.9 321.9L512.9 321.8L513.9 321.4L514.9 321.1L515.9 320.7L516.9 320.3L517.9 320.0L518.8 319.7L519.8 319.5L520.7 319.4L521.6 319.1L522.5 318.7L523.6 318.3L524.7 317.9L525.8 317.6L526.9 317.1L527.9 316.9L528.9 316.8L529.9 316.6L530.8 316.1L531.7 315.7L532.5 315.4L533.9 315.0L535.0 314.7L535.9 314.5L536.9 314.4L538.0 314.4L538.9 314.6L539.8 314.9L540.7 315.2L541.7 315.4L542.7 315.7L543.8 316.3L545.0 316.9L545.9 317.4L546.7 317.8L547.7 318.2L548.6 318.6L549.6 318.8L550.6 319.0L551.6 319.5L552.7 320.0L553.8 320.3L555.0 320.5L555.9 320.7L556.8 320.8L557.8 321.3L558.8 321.7L559.8 321.9L560.9 322.1L562.0 322.6L563.0 323.0L564.1 323.2L565.1 323.4L566.1 323.6L567.0 323.9L567.9 324.1L568.8 324.3L569.9 324.7L571.0 325.4L572.0 325.8L573.0 326.0L573.9 326.6L574.8 327.3L575.7 327.9L576.6 328.5L577.5 329.0L578.5 329.2L579.4 329.5L580.4 330.3L581.4 331.0L582.4 331.6L583.3 332.0L584.3 332.2L585.3 332.3L586.2 332.6L587.2 332.7L588.2 332.5L589.1 332.2L590.1 331.8L591.0 331.3L592.0 330.8L593.0 330.3L594.0 329.9L595.0 329.7L595.9 329.6L596.9 329.4L597.9 329.2L598.9 329.4L599.9 329.7L600.9 329.5L602.0 329.1L603.0 328.8L604.0 328.5L605.0 328.1L606.0 327.7L607.1 327.4L608.2 327.3L609.2 326.8L610.3 325.9L611.4 325.6L612.4 325.4L613.3 324.9L614.2 324.4L615.0 323.9L616.2 323.1L617.1 322.3L617.8 321.7L618.7 321.1L620.0 320.5L620.8 320.1L621.7 319.6L622.6 319.3L623.6 319.1L624.7 318.9L625.8 318.7L626.9 318.3L628.0 317.9L629.1 317.5L630.2 317.3L631.2 316.9L632.3 316.5L633.3 316.3L634.4 316.3L635.4 316.1L636.4 315.8L637.5 315.7L638.5 315.7L639.5 315.7L640.5 315.7L641.5 315.8L642.5 316.0L643.6 316.1L644.6 315.9L645.6 315.6L646.6 315.6L647.6 315.6L648.6 315.6L649.5 315.5L650.5 315.6L651.5 315.9L652.5 316.3L653.5 316.5L654.5 316.7L655.5 317.0L656.6 317.3L657.6 317.7L658.6 318.1L659.6 318.8L660.6 319.5L661.6 319.9L662.5 320.4L663.3 321.0L664.2 321.7L665.0 322.1L665.8 322.6L666.6 323.2L667.4 323.8L668.2 324.5L669.0 325.3L669.8 326.1L670.5 326.8L671.2 327.5L671.9 328.2L672.6 328.9L673.2 329.8L673.9 330.7L674.5 331.4L675.2 332.1L675.8 332.9L676.4 333.6L677.0 334.5L677.6 335.4L678.2 336.3L678.8 337.2L679.3 338.2L679.8 339.3L680.3 340.3L680.8 341.1L681.3 342.1L681.8 343.2L682.3 344.2L682.8 345.3L683.2 346.2L683.7 347.0L684.1 347.9L684.6 349.0L685.0 350.1L685.4 351.1L685.8 352.1L686.2 352.9L686.5 353.7L686.9 354.7L687.3 355.7L687.6 356.5L687.9 357.3L688.2 358.2L688.6 359.1L688.9 360.1L689.2 361.3L689.5 362.4L689.7 363.1L690.0 364.0L690.2 365.1L690.4 366.4L690.6 367.2L690.8 368.1L691.0 369.3L691.2 370.5L691.4 371.4L691.6 372.2L691.8 373.3L692.0 374.5L692.2 375.6L692.4 376.8L692.6 377.8L692.8 378.9L693.0 380.0L693.2 381.0L693.3 381.9L693.5 382.8L693.7 383.6L693.8 384.6L694.0 385.5L694.1 386.4L694.3 387.4L694.5 388.4L694.6 389.5L694.8 390.5L694.9 391.5L695.1 392.6L695.2 393.7L695.4 394.8L695.6 395.8L695.7 396.8L695.9 397.8L696.1 398.8L696.2 399.8L696.4 400.8L696.6 401.7L696.7 402.6L696.9 403.7L697.1 404.9L697.2 406.0L697.4 407.1L697.6 408.1L697.7 408.9L697.9 410.0L698.1 411.1L698.3 412.3L698.4 413.4L698.6 414.5L698.8 415.4L699.0 416.4L699.1 417.5L699.3 418.6L699.5 419.5L699.7 420.5L699.8 421.7L700.0 423.0L700.2 424.0L700.4 425.0L700.6 426.0L700.8 427.0L700.9 427.9L701.1 428.7L701.3 429.8L701.5 431.0L701.7 432.0L701.9 433.0L702.1 434.0L702.2 435.0L702.4 436.0L702.6 436.9L702.8 437.8L703.0 438.8L703.2 439.8L703.4 440.7L703.6 441.5L703.8 442.4L704.0 443.7L704.2 444.9L704.5 446.2L704.8 447.2L705.0 447.9L705.2 448.9L705.5 449.9L705.8 451.0L706.0 452.2L706.2 453.3L706.5 454.2L706.8 455.2L707.0 455.9L707.2 456.7L707.5 457.5L707.9 458.9L708.4 460.1L708.8 461.2L709.2 462.3L709.7 463.3L710.1 464.2L710.5 465.1L710.9 465.8L711.2 466.3L712.1 467.8L712.8 468.9L713.5 468.9L713.9 468.4L714.4 467.8L714.8 466.9L715.3 465.6L715.8 464.3L716.2 462.5L716.4 461.6L716.6 460.7L716.8 459.9L717.0 459.0L717.2 458.2L717.4 457.5L717.6 456.6L717.8 455.4L718.0 454.2L718.2 453.5L718.4 452.5L718.5 451.3L718.7 450.0L718.9 448.6L719.1 447.3L719.3 446.1L719.5 444.7L719.6 443.7L719.7 442.9L719.9 442.2L720.0 441.4L720.1 440.3L720.2 439.2L720.4 438.5L720.5 437.8L720.6 436.7L720.7 435.3L720.8 434.2L721.0 433.4L721.1 432.3L721.2 431.0L721.3 429.8L721.4 429.1L721.5 428.2L721.7 427.4L721.8 426.4L721.9 425.2L722.0 424.0L722.1 422.9L722.3 421.8L722.4 420.9L722.5 419.9L722.6 419.0L722.7 418.0L722.9 417.1L723.0 416.1L723.1 415.0L723.2 413.9L723.3 412.7L723.5 411.5L723.6 410.4L723.7 409.6L723.8 408.7L723.9 407.8L724.0 406.8L724.2 405.9L724.3 405.1L724.4 403.8L724.5 402.6L724.6 401.6L724.8 400.6L724.9 399.6L725.0 398.6L725.1 397.6L725.3 396.8L725.4 396.0L725.5 395.3L725.7 394.2L725.8 392.9L726.0 391.4L726.2 390.4L726.3 389.4L726.5 388.2L726.7 387.0L726.8 386.0L727.0 385.0L727.2 384.0L727.3 383.1L727.5 382.2L727.7 381.3L727.9 380.4L728.0 379.4L728.2 378.4L728.4 377.6L728.6 376.9L728.8 376.2L729.1 375.0L729.5 373.7L729.9 372.3L730.4 371.2L730.8 370.3L731.2 369.4L731.6 368.5L732.1 367.7L732.5 367.0L733.5 365.8L734.6 365.1L735.7 364.7L736.8 364.6L737.7 364.8L738.7 365.2L739.6 366.2L740.5 367.7L740.8 368.3L741.2 368.9L741.5 369.8L741.8 370.8L742.2 371.8L742.5 372.7L742.8 373.8L743.1 375.0L743.4 376.2L743.8 377.3L743.9 378.2L744.1 379.1L744.3 380.0L744.5 380.9L744.7 381.9L744.9 383.2L745.1 384.4L745.3 385.4L745.5 386.4L745.7 387.5L745.9 388.6L746.1 389.7L746.3 390.8L746.4 391.8L746.6 392.7L746.8 393.9L747.0 395.0L747.2 396.0L747.4 397.0L747.6 397.9L747.7 398.8L747.9 400.1L748.1 401.4L748.3 402.4L748.5 403.4L748.6 404.8L748.8 406.0L749.0 406.9L749.2 407.6L749.3 408.7L749.5 409.6L749.7 410.7L749.8 411.8L750.0 412.7L750.2 413.8L750.5 414.9L750.7 415.8L750.9 416.9L751.2 418.1L751.4 419.1L751.6 419.9L751.8 420.8L752.1 422.0L752.3 423.2L752.5 423.9L752.8 424.6L753.0 425.6L753.2 426.5L753.5 427.4L753.8 428.1L754.0 429.0L754.2 430.2L754.5 431.4L754.8 432.8L755.0 434.1L755.2 434.9L755.4 435.7L755.6 436.7L755.8 437.8L756.0 439.1L756.2 440.4L756.4 441.5L756.6 442.6L756.8 443.8L757.0 445.0L757.2 446.2L757.3 447.3L757.5 448.0L757.9 449.7L758.2 451.0L758.5 452.1L758.9 452.7L759.2 452.9L759.6 452.5L760.0 451.6L760.4 450.3L760.8 448.9L761.3 447.5L761.8 446.4L762.0 445.5L762.3 444.5L762.5 443.5L762.8 442.3L763.1 441.1L763.3 439.9L763.6 438.8L763.9 437.8L764.2 436.7L764.5 435.6L764.7 434.7L765.0 433.8L765.5 432.4L766.0 431.0L766.5 429.8L767.0 428.9L767.5 428.3L768.0 428.2L768.4 428.5L768.8 429.3L769.1 430.4L769.5 431.5L769.8 432.5L770.2 434.1L770.5 435.4L770.8 436.2L771.0 437.2L771.2 438.4L771.5 439.6L771.7 441.0L772.0 442.0L772.2 442.7L772.5 443.3L772.8 443.7L773.2 443.5L773.6 442.8L774.1 441.6L774.6 440.2L775.1 439.0L775.5 438.0L776.1 436.9L776.8 435.9L777.4 435.2L778.0 434.9L778.5 435.2L779.1 436.1L779.7 437.1L780.2 438.1L780.8 438.8L781.9 437.8L783.0 436.8L783.5 437.8L784.0 439.5L784.5 441.0L785.1 442.3L785.6 443.1L786.1 443.1L786.3 442.7L786.5 442.0L786.7 441.2L786.9 440.3L787.1 439.2L787.3 438.0L787.5 436.7L787.7 435.5L787.8 434.2L788.0 433.0L788.2 431.8L788.4 430.7L788.6 429.8L789.0 428.6L789.5 427.4L789.9 426.3L790.4 425.1L790.8 424.1L791.2 423.7L792.1 424.6L792.9 426.2L793.8 426.3L794.0 425.8L794.2 425.1L794.4 424.3L794.6 423.2L794.8 421.9L795.0 420.9L795.2 419.7L795.4 418.5L795.6 417.2L795.9 415.9L796.1 414.9L796.5 413.5L796.9 412.2L797.3 410.9L797.7 409.9L798.2 409.0L798.6 408.3L799.0 407.9L799.5 408.1L800.0 409.0L800.5 410.4L800.9 411.4L801.4 412.6L801.9 413.8L802.8 415.4L803.7 416.3L804.6 416.2L805.0 415.5L805.3 414.6L805.7 413.6L806.1 412.4L806.5 411.3L806.8 410.3L807.2 409.4L807.5 408.7L808.5 407.9L809.5 410.4L809.7 411.2L809.8 412.1L810.0 413.2L810.2 414.1L810.4 414.9L810.5 415.9L810.7 417.0L810.9 418.4L811.1 419.9L811.3 421.0L811.4 422.0L811.6 423.1L811.8 424.0L811.9 425.2L812.1 426.4L812.3 427.3L812.4 428.2L812.6 429.4L812.7 430.5L812.9 431.4L813.1 432.3L813.2 433.2L813.4 434.0L813.6 434.8L814.2 435.9L814.8 436.2L815.5 436.7L816.1 438.7L816.2 439.5L816.4 440.4L816.5 441.2L816.6 442.0L816.8 442.9L816.9 443.9L817.0 444.9L817.2 445.7L817.3 446.5L817.4 447.8L817.5 449.1L817.7 450.3L817.8 451.5L817.9 452.7L818.1 453.9L818.2 455.1L818.3 456.3L818.5 457.3L818.6 458.3L818.7 459.3L818.8 460.4L818.9 461.6L819.1 462.8L819.2 464.0L819.3 465.2L819.4 466.3L819.5 467.3L819.6 468.2L819.8 469.1L819.9 470.1L820.0 471.2L820.1 472.4L820.2 473.5L820.3 474.6L820.5 475.7L820.6 476.8L820.7 477.9L820.8 478.7L820.9 479.4L821.0 480.1L821.1 480.9L821.3 482.5L821.5 484.3L821.7 485.5L821.8 486.8L822.0 488.1L822.2 489.5L822.4 490.7L822.5 491.5L822.7 492.1L822.9 492.5L823.1 492.7L823.3 492.5L823.6 492.0L823.8 491.1L824.0 490.1L824.3 488.9L824.5 487.6L824.8 486.2L825.0 484.9L825.3 483.5L825.5 482.3L825.8 481.3L826.0 480.3L826.3 478.9L826.5 477.4L826.8 476.1L827.1 475.0L827.3 474.1L827.6 473.2L827.9 472.4L828.1 471.9L828.5 471.7L828.8 472.2L829.2 473.3L829.5 474.7L829.9 476.3L830.2 478.0L830.4 478.7L830.5 479.5L830.6 480.5L830.8 481.3L830.9 482.1L831.1 483.2L831.2 484.5L831.3 485.6L831.5 486.5L831.6 487.7L831.7 488.8L831.9 490.0L832.0 491.2L832.2 492.2L832.3 493.1L832.5 494.0L832.6 495.0L832.8 496.3L833.1 497.7L833.3 499.1L833.5 500.5L833.8 501.7L834.0 502.8L834.3 503.9L834.5 504.8L834.8 505.3L835.0 505.7L835.2 505.9L835.6 505.7L835.9 505.1L836.2 504.2L836.5 503.1L836.8 501.9L837.1 500.6L837.4 499.2L837.7 498.0L838.0 497.1L838.5 495.4L839.0 494.2L839.5 493.4L840.0 493.3L840.4 493.6L840.9 494.3L841.4 495.5L841.9 497.2L842.4 498.6L842.6 499.3L842.8 500.2L843.0 501.1L843.2 502.1L843.4 503.2L843.6 504.3L843.8 505.4L844.0 506.4L844.2 507.3L844.4 508.5L844.6 509.9L844.8 510.9L845.0 511.7L845.2 512.5L845.5 513.7L845.8 515.0L846.1 516.4L846.4 517.6L846.7 518.7L847.0 520.1L847.3 521.2L847.6 522.1L847.8 522.8L848.1 523.3L848.4 523.6L848.8 523.5L849.2 522.8L849.6 521.6L850.0 520.3L850.4 519.1L850.8 517.9L851.1 517.0L852.1 515.6L853.0 515.5L853.5 516.3L854.1 517.9L854.6 519.1L855.3 519.0L855.5 518.6L855.8 518.0L856.0 517.2L856.2 516.2L856.5 515.1L856.8 513.7L857.0 512.5L857.3 511.3L857.5 509.8L857.8 508.3L858.1 507.2L858.3 506.2L858.6 505.3L858.9 504.2L859.3 503.1L859.6 502.1L859.9 501.3L860.2 500.5L860.5 499.3L860.9 498.1L861.2 497.3L861.6 496.6L862.0 495.6L862.4 494.8L862.7 494.1L863.1 493.4L863.5 492.8L863.9 491.8L864.4 490.8L864.8 489.9L865.2 489.0L865.6 488.1L866.0 487.1L866.4 485.8L866.8 484.2L866.9 483.3L867.1 482.3L867.2 481.5L867.4 480.6L867.5 479.8L867.7 478.8L867.8 477.8L868.0 476.9L868.1 476.0L868.3 475.1L868.4 474.1L868.5 473.1L868.7 472.2L868.8 471.1L869.0 469.9L869.1 468.8L869.2 467.7L869.4 466.6L869.5 465.5L869.7 464.3L869.8 463.0L869.9 461.8L870.1 460.9L870.2 459.9L870.4 458.8L870.5 457.7L870.6 456.6L870.8 455.5L870.9 454.4L871.0 453.4L871.1 452.5L871.2 451.6L871.4 450.5L871.5 449.5L871.6 448.4L871.8 447.4L871.9 446.2L872.0 444.8L872.1 443.8L872.2 442.9L872.4 442.1L872.5 441.2L872.6 440.2L872.8 439.1L872.9 437.9L873.0 436.7L873.1 435.7L873.2 434.6L873.4 433.7L873.5 432.7L873.6 431.8L873.8 430.8L873.9 429.8L874.0 429.0L874.1 428.2L874.2 427.4L874.5 426.1L874.7 424.8L874.9 423.4L875.1 422.3L875.4 421.3L875.6 420.3L875.8 419.3L876.0 418.3L876.2 417.2L876.5 416.1L876.7 415.3L876.9 414.5L877.1 413.5L877.3 412.5L877.6 411.6L877.8 410.8L878.0 410.0L878.3 408.9L878.5 407.8L878.8 406.6L879.0 405.5L879.3 404.4L879.6 403.3L879.8 402.3L880.1 401.3L880.3 400.2L880.6 399.2L880.8 398.0L881.1 397.0L881.3 396.3L881.5 395.6L881.8 394.9L882.5 392.6L883.1 391.2L883.7 390.6L884.2 390.7L884.7 391.3L885.2 392.3L885.6 393.5L886.1 395.0L886.5 396.5L886.7 397.4L886.9 398.6L887.1 399.9L887.3 401.5L887.5 402.9L887.6 404.0L887.8 405.0L888.0 405.6L888.2 405.7L888.4 405.4L888.5 404.9L888.7 404.0L888.8 402.8L889.0 401.7L889.1 400.9L889.3 399.8L889.4 398.5L889.6 397.3L889.7 396.1L889.9 394.9L890.0 393.6L890.2 392.1L890.3 391.0L890.5 390.2L890.7 389.1L890.9 388.0L891.0 386.6L891.2 385.1L891.4 384.2L891.6 383.4L891.7 382.1L891.9 380.6L892.1 379.6L892.3 378.5L892.5 377.8L892.8 377.1L893.0 376.4L893.6 374.6L894.2 373.4L894.8 372.5L895.5 371.7L896.1 371.0L896.8 370.4L898.0 369.8L899.2 370.3L900.5 371.6L901.0 372.1L901.5 372.7L902.1 373.4L902.6 374.1L903.2 375.0L903.8 376.1L904.4 377.0L904.9 377.8L905.5 378.8L906.0 379.6L906.4 380.5L906.9 381.4L907.4 382.3L907.9 383.2L908.4 384.2L908.9 385.3L909.3 386.3L909.7 387.1L910.1 387.8L910.5 388.7L911.3 390.3L911.8 391.3L912.3 392.2L913.0 392.9L913.8 393.7L914.8 394.5L915.8 395.3L916.8 396.3L917.2 397.1L917.6 398.1L918.0 399.0L918.3 399.7L918.7 400.5L919.2 401.5L919.6 402.6L920.0 403.7L920.5 404.9L920.8 405.8L921.2 406.8L921.6 407.7L922.0 408.6L922.4 409.6L922.8 410.6L923.2 411.8L923.6 413.0L924.0 413.9L924.4 414.8L924.8 415.6L925.2 416.5L925.5 417.4L925.9 418.6L926.3 419.7L926.6 420.7L927.0 421.7L927.3 422.7L927.6 423.8L927.9 424.8L928.3 425.8L928.6 426.8L928.9 427.9L929.2 428.9L929.7 430.1L930.0 431.2L930.4 432.3L930.8 433.3L931.2 434.2L931.6 435.1L932.0 436.2L932.5 437.1L933.0 438.0L933.7 438.8L934.5 439.5L935.3 440.1L936.2 440.5L937.1 440.9L937.9 441.4L938.6 442.1L939.2 442.9L940.0 443.4L940.5 443.9L940.9 445.3L941.3 446.9L941.8 448.0L942.1 449.0L942.5 450.2L942.9 451.4L943.3 452.1L943.7 452.8L944.2 453.5L945.0 453.6L945.9 453.1L946.8 452.4L947.7 451.2L948.5 450.7L949.1 451.0L949.6 451.5L950.1 452.3L950.6 453.7L951.2 454.8L951.8 455.3L952.2 456.3L952.6 458.1L953.0 459.5L953.5 460.5L954.0 461.2L954.4 461.8L954.9 462.8L955.5 463.8L956.0 464.6L956.9 464.8L957.8 464.6L958.8 463.9L959.8 463.0L960.8 462.2L961.8 461.6L962.7 461.3L963.8 460.9L964.8 459.9L965.8 459.2L966.7 459.2L967.5 459.4L968.3 459.8L968.9 460.5L969.4 461.6L969.9 462.5L970.5 462.7L970.9 462.3L971.3 461.5L971.8 460.2L972.2 459.0L972.7 458.1L973.2 456.8L973.7 455.4L974.2 454.9L975.3 454.6L976.5 454.4L977.7 454.5L978.9 454.8L980.0 454.6L980.7 454.0L981.3 453.3L981.9 452.0L982.5 450.5L983.0 449.6L983.6 448.8L984.2 447.9L984.9 447.1L985.7 446.1L986.4 445.1L987.2 444.8L987.9 444.5L988.6 443.5L989.2 442.6L990.0 441.1L990.6 439.6L991.2 438.3L991.8 437.4L992.5 437.0L993.5 437.1L994.6 437.6L995.7 438.4L996.8 439.2L998.1 439.9L999.3 439.8L1000.5 440.1L1000.9 439.9L1001.3 439.2L1001.7 437.7L1002.1 436.3L1002.5 435.6L1002.8 434.7L1003.2 433.1L1003.5 431.9L1003.8 431.0L1004.0 429.8L1004.1 428.1L1004.3 427.2L1004.4 426.8L1004.5 425.6L1004.6 424.2L1004.7 423.0L1004.7 421.9L1004.9 421.0L1005.0 420.5L1005.3 420.7L1005.7 421.9L1006.0 424.3L1006.4 425.8L1006.8 426.2L1007.0 425.7L1007.3 424.4L1007.6 422.9L1007.9 422.1L1008.1 420.8L1008.3 419.5L1008.5 418.5" stroke="#800000" stroke-width="2.9"/>
<path d="M134.2 442.4L134.9 445.3L135.8 445.5L136.8 444.4L138.0 443.6L139.2 443.1L140.5 443.6L141.8 442.3L143.0 442.0L144.0 442.5L145.0 442.6L146.0 442.4L147.0 442.3L148.1 441.1L149.1 441.3L150.1 440.0L151.1 440.3L152.1 441.3L153.0 441.1L154.2 442.8L155.3 440.2L156.4 439.6L157.4 440.7L158.4 440.0L159.4 439.9L160.5 439.4L161.5 438.6L162.5 439.1L163.5 439.8L164.6 439.3L165.6 438.6L166.6 437.6L167.6 437.6L168.5 438.8L169.7 434.4L170.8 439.6L171.9 439.7L173.0 440.9L174.0 437.9L175.0 440.9L176.1 442.1L177.1 440.7L178.0 442.1L179.0 442.7L180.0 446.3L180.8 445.0L181.6 445.5L182.5 446.4L183.4 446.6L184.3 446.1L185.1 443.0L186.0 448.4L187.0 448.1L188.0 449.0L189.0 448.4L190.0 448.2L191.0 449.8L192.0 450.7L193.2 450.2L194.3 448.8L195.4 449.1L196.5 450.9L197.5 452.2L198.0 452.6L198.4 453.4L198.8 454.0L199.2 455.5" stroke="#000" stroke-width="2.5" stroke-linejoin="miter"/>
<path d="M198.8 454.0L199.2 455.5L199.5 456.5L199.2 457.1L199.7 458.1L200.7 459.4L200.8 460.4L200.7 461.3L201.6 463.1L202.4 464.5L203.1 464.9L203.6 465.5L203.8 466.6L204.1 467.8L204.4 469.1L204.6 469.8L204.7 470.5L204.9 471.1L205.2 471.8L205.6 473.0L206.3 474.7L206.7 475.7L207.0 476.4L207.2 477.8L207.4 479.0L207.5 479.6L207.8 480.3L208.4 481.4L208.8 482.6L208.8 484.0L208.9 485.3L209.3 486.3L209.5 487.1L209.3 487.4L209.6 488.0L210.6 489.0L211.1 490.3L211.4 491.7L211.7 493.0L212.0 494.3L211.7 495.2L211.3 496.0L211.4 497.0L211.5 498.1L211.8 498.7L212.2 499.4L212.8 500.8L213.4 502.2L213.2 503.3L213.0 504.5L213.1 505.1L213.3 505.8L213.8 506.6L214.1 507.5L213.9 508.7L213.9 510.1L214.3 511.6L214.4 512.5L214.3 512.8L214.4 513.8L214.6 515.1L215.0 516.2L215.3 516.9L215.5 517.9L215.6 519.2L215.8 520.2L216.1 521.2L216.3 522.3L216.4 523.3L216.4 524.6L216.3 526.1L216.8 527.0L217.3 527.7L217.8 528.9L218.2 530.1L218.1 530.8L217.8 531.5L217.6 532.4L217.4 533.3L217.8 534.5L218.3 535.7L218.3 535.9L218.3 536.1L217.8 537.8L217.2 539.5L217.5 540.5L217.9 541.6L218.4 542.2L218.9 542.9L219.2 544.3L219.5 545.7L219.5 546.5L219.5 547.2L219.1 547.7L218.8 548.3L219.4 549.9L220.0 551.4L219.9 552.2L219.8 553.0L220.2 554.1L220.6 555.2L220.4 556.3L220.2 557.5L220.7 558.8L221.2 560.1L221.5 560.8L221.7 561.5L221.8 562.5L221.8 563.5L221.7 564.6L221.7 565.6L222.1 566.0L222.4 566.8L222.4 568.6L222.4 570.0L222.6 570.4L222.9 571.1L223.5 572.5L224.0 573.6L224.3 574.2L224.2 575.0L223.6 576.1L223.7 577.2L224.5 578.4L225.0 579.8L225.3 581.5L225.1 582.5L224.8 583.2L224.9 583.9L225.3 584.6L225.4 585.6L225.4 586.7L225.8 587.5L226.2 588.2L226.2 589.4L226.2 590.6L226.4 591.5L226.8 592.3L227.0 593.7L227.2 595.2L227.4 595.7L227.5 596.4L227.6 597.8L227.9 598.9L228.4 599.8L228.8 600.8L229.3 601.8L229.5 603.0L229.5 604.4L229.6 605.4L229.8 606.2L230.1 607.2L230.5 608.2L230.7 609.5L230.8 610.7L230.8 611.8L230.7 612.8L231.8 613.2L232.8 613.6L233.3 615.1L233.7 616.4L233.6 616.8L233.6 617.4L234.0 618.7L234.3 620.1L234.4 621.6L234.4 622.8L234.7 623.3L234.9 623.8L235.3 624.8L235.7 625.7L236.3 626.8L237.0 627.8L237.7 628.7L238.2 629.6L238.4 630.6L238.7 631.4L239.3 632.2L239.9 633.3L240.6 634.7L240.7 635.9L240.4 636.8L240.8 637.5L241.6 638.2L241.9 639.3L242.2 640.4L242.7 641.5L243.2 642.5L243.7 643.6L244.2 644.5L245.0 645.2L245.5 645.9L246.1 646.8L246.6 647.6L247.2 648.6L247.7 649.5L248.3 650.4L248.9 651.3L249.5 652.1L250.1 653.0L250.7 653.8L251.3 654.5L251.9 655.4L252.5 656.4L253.2 657.3L253.9 658.2L254.6 658.9L255.3 659.6L256.0 660.4L256.7 661.3L257.5 662.1L258.2 662.9L258.9 663.6L259.7 664.4L260.5 665.1L261.2 665.7L262.1 666.3L263.0 666.9L263.9 667.6L264.7 668.1L265.6 668.5L266.5 669.0L267.5 669.4L268.4 669.9L269.3 670.4L270.3 670.9L271.2 671.4L272.2 671.8L273.2 672.1L274.3 672.3L275.3 672.4L276.3 672.5L277.4 672.6L278.4 672.7L279.5 672.9L280.5 673.2L281.5 673.4L282.5 673.6L283.6 673.7L284.6 673.7L285.7 673.6L286.7 673.5L287.7 673.5L288.7 673.6L289.7 673.5L290.7 673.3L291.6 673.1L292.5 673.0L293.5 672.7L294.5 672.5L295.4 672.2L296.3 671.6L297.2 671.1L298.1 670.6L299.0 670.2L300.0 669.7L300.9 669.4L301.9 669.0L302.9 668.5L303.9 668.2L304.9 667.8L305.9 667.3L306.9 666.6L307.8 666.0L308.8 665.3L309.5 664.7L310.3 664.2L311.1 663.7L311.8 663.2L312.5 662.6L313.2 661.5L313.9 660.4L314.7 659.3L315.5 658.3L316.2 657.5L316.8 656.9L317.3 656.3L317.9 655.7L318.5 654.7L319.0 653.7L319.6 653.0L320.2 652.3L320.8 651.5L321.4 650.5L321.9 649.6L322.5 648.9L323.1 648.2L323.8 647.2L324.4 646.1L325.0 645.1L325.5 644.4L325.9 643.7L326.4 643.1L326.9 642.1L327.4 641.0L327.9 640.1L328.4 639.2L328.9 638.4L329.4 637.8L329.9 637.1L330.4 635.9L330.9 634.7L331.5 634.2L332.0 633.6L332.5 632.4L333.0 631.3L333.5 630.2L334.0 629.2L334.5 628.3L335.0 627.5L335.5 626.7L335.9 625.8L336.4 624.9L336.8 624.1L337.3 623.2L337.7 622.3L338.2 621.3L338.6 620.6L339.1 619.8L339.5 618.6L340.0 617.3L340.5 616.4L340.9 615.7L341.4 614.9L341.8 614.0L342.3 613.1L342.7 612.4L343.2 611.5L343.6 610.2L344.1 609.0L344.5 608.2L345.0 607.4L345.4 606.4L345.9 605.5L346.3 604.6L346.7 603.7L347.2 602.9L347.6 602.1L348.0 601.2L348.5 600.3L348.9 599.4L349.3 598.5L349.8 597.6L350.2 596.4L350.7 595.4L351.1 594.5L351.5 593.7L352.0 592.8L352.4 592.0L352.8 591.0L353.3 590.1L353.7 589.1L354.1 588.0L354.6 587.2L355.0 586.4L355.5 585.5L355.9 584.3L356.4 583.3L356.9 582.6L357.3 581.8L357.8 580.7L358.3 579.6L358.7 578.6L359.2 577.7L359.7 576.7L360.2 575.8L360.6 575.0L361.1 574.1L361.5 573.3L362.0 572.5L362.5 571.5L362.9 570.4L363.3 569.4L363.8 568.6L364.2 567.8L364.6 567.0L365.0 566.4L365.6 565.1L366.1 563.8L366.7 562.6L367.3 561.6L367.8 560.8L368.3 560.0L368.8 558.8L369.3 557.9L369.8 557.1L370.3 556.3L370.8 555.3L371.2 554.3L371.7 553.4L372.1 552.6L372.5 551.9L373.6 551.0L374.6 550.0L375.4 549.3L376.2 549.1L377.0 549.0L378.0 549.1L378.8 549.5L379.7 550.4L380.5 552.1L380.8 552.8L381.0 553.7L381.3 554.6L381.5 555.5L381.8 556.6L382.0 557.8L382.3 558.9L382.5 559.9L382.8 561.1L383.0 562.4L383.3 563.3L383.5 564.1L383.8 564.8L384.4 566.3L385.1 567.2L385.7 567.9L386.4 568.8L387.0 570.2L387.3 570.9L387.5 571.6L387.8 572.7L388.0 574.1L388.2 575.3L388.5 576.2L388.7 577.3L389.0 578.7L389.2 579.8L389.5 580.9L389.7 581.8L390.0 582.6L390.5 583.7L391.0 584.6L391.6 585.5L392.1 586.3L392.7 587.2L393.2 587.9L393.8 588.9L394.1 589.7L394.4 590.7L394.8 591.5L395.1 592.3L395.5 593.5L395.8 594.8L396.2 596.2L396.5 597.4L396.9 598.3L397.2 599.2L397.5 599.9L398.0 601.3L398.5 602.7L399.0 604.0L399.4 605.1L399.9 605.9L400.5 606.3L401.2 606.3L401.9 605.8L402.6 604.9L403.4 603.9L404.2 602.7L405.0 601.1L405.4 600.5L405.9 599.9L406.3 599.2L406.8 598.3L407.2 597.2L407.7 596.3L408.2 595.4L408.6 594.5L409.1 593.7L409.6 592.5L410.0 591.2L410.5 590.0L410.8 589.2L411.1 588.3L411.4 587.4L411.7 586.4L412.0 585.5L412.3 584.6L412.6 583.8L412.9 582.9L413.2 581.9L413.5 580.8L413.8 579.7L414.1 578.6L414.4 577.5L414.6 576.5L414.9 575.5L415.2 574.6L415.5 573.6L415.8 572.5L416.1 571.5L416.4 570.5L416.8 569.4L417.1 568.4L417.4 567.3L417.7 566.2L418.0 565.3L418.3 564.4L418.6 563.4L418.9 562.4L419.2 561.4L419.6 560.4L419.9 559.3L420.2 558.0L420.5 557.0L420.8 556.5L421.3 555.7L421.7 554.5L422.2 553.3L422.6 552.1L423.0 551.1L423.5 550.2L423.9 549.4L424.4 548.6L424.9 547.9L425.3 547.1L425.8 546.3L426.4 545.3L427.0 544.3L427.6 543.4L428.1 542.4L428.7 541.6L429.4 540.8L430.0 540.1L430.6 539.5L431.2 538.9L432.1 538.1L433.0 537.4L433.9 536.8L434.8 536.3L435.7 535.8L436.6 535.4L437.5 534.9L438.4 534.4L439.3 534.0L440.2 533.5L441.1 533.1L442.0 532.8L442.9 532.2L443.8 531.0L444.4 530.1L445.0 529.5L445.6 529.0L446.3 528.1L446.9 527.2L447.5 526.4L448.1 525.5L448.8 524.8L449.4 524.0L450.0 523.3L450.7 522.4L451.3 521.6L451.9 520.7L452.5 519.8L453.1 519.0L453.8 518.2L454.5 517.2L455.2 516.2L456.0 515.4L456.5 514.8L457.1 514.1L457.7 513.5L458.3 512.5L459.0 511.5L459.6 510.6L460.2 509.8L460.9 509.0L461.6 508.1L462.3 507.1L463.0 506.2L463.6 505.5L464.3 504.7L465.0 503.9L465.7 503.0L466.5 502.1L467.3 501.2L468.1 500.4L468.9 499.6L469.8 499.0L470.6 498.6L471.4 497.8L472.2 497.1L472.9 496.4L473.7 495.9L474.4 495.4L475.0 495.0L476.2 494.4L477.3 493.7L478.3 493.3L479.2 493.4L480.2 493.5L481.2 493.3L482.3 493.1L483.3 493.0L484.4 493.0L485.6 493.1L486.7 493.2L487.7 493.3L488.8 493.4L489.8 493.2L490.8 492.8L491.7 492.4L492.7 492.1L493.8 491.5L495.0 490.7L495.6 490.3L496.2 489.7L496.9 489.1L497.6 488.4L498.3 487.6L499.0 486.9L499.8 486.1L500.5 485.2L501.3 484.3L502.0 483.5L502.8 482.8L503.5 482.1L504.3 481.5L505.0 480.7L505.8 479.9L506.5 479.1L507.3 478.3L508.0 477.7L508.8 477.3L509.5 476.5L510.3 475.4L511.1 474.6L511.8 474.1L512.6 473.6L513.4 472.9L514.2 472.2L515.0 471.4L515.7 470.8L516.4 470.0L517.0 469.2L517.8 468.4L518.5 467.6L519.2 466.9L519.9 466.2L520.6 465.4L521.3 464.5L522.1 463.8L522.8 463.1L523.5 462.1L524.2 461.1L524.9 460.3L525.6 460.0L526.2 459.6L527.1 458.6L528.0 457.7L528.9 457.1L529.7 456.4L530.6 455.5L531.4 454.8L532.2 454.1L533.1 453.3L533.9 452.6L534.7 452.0L535.5 451.6L536.2 451.3L537.4 450.9L538.5 450.7L539.6 450.7L540.7 450.9L541.8 451.1L542.8 451.3L543.9 451.4L545.0 451.6L546.1 452.1L547.2 452.5L548.3 452.5L549.4 452.6L550.5 452.5L551.6 452.6L552.7 453.3L553.8 453.9L554.6 454.1L555.5 454.3L556.5 455.0L557.4 455.7L558.3 456.3L559.2 456.8L560.1 457.4L560.9 457.9L561.7 458.4L562.5 458.8L563.7 459.0L564.8 459.0L565.9 458.8L566.9 458.5L567.8 458.4L568.8 458.6L569.8 459.0L570.8 459.4L571.7 459.9L572.7 460.6L573.8 461.6L574.4 462.0L575.1 462.6L575.7 463.3L576.4 464.2L577.2 465.2L577.9 466.3L578.6 467.3L579.3 468.1L580.0 468.7L580.9 469.3L581.8 470.1L582.7 470.8L583.7 471.6L584.6 472.1L585.4 472.4L586.2 472.5L587.3 472.5L588.3 472.2L589.2 471.5L590.2 470.7L591.2 469.8L592.0 469.2L592.8 468.5L593.6 467.7L594.4 466.8L595.2 465.9L596.0 465.1L596.8 464.3L597.5 463.8L598.5 463.1L599.5 462.6L600.4 462.2L601.4 461.8L602.5 461.4L603.4 461.1L604.5 460.9L605.5 460.6L606.7 460.3L607.8 460.0L608.9 459.5L610.0 458.8L610.5 458.3L611.0 457.6L611.6 456.7L612.1 455.9L612.6 455.0L613.1 453.9L613.6 452.8L614.1 451.9L614.6 451.0L615.2 449.9L615.7 448.9L616.3 447.9L616.9 446.9L617.5 446.1L618.1 445.3L618.7 444.5L619.3 443.6L620.0 442.9L620.6 442.3L621.3 441.7L622.0 441.1L622.7 440.4L623.4 439.5L624.1 438.5L624.8 437.9L625.5 437.2L626.1 436.4L626.8 435.5L627.5 434.9L628.2 434.3L628.9 433.7L629.5 433.0L630.2 432.1L630.9 431.0L631.6 430.0L632.3 429.3L633.0 428.6L633.7 428.0L634.4 427.4L635.0 426.6L635.7 425.7L636.3 425.0L636.9 424.4L637.5 423.7L638.4 422.5L639.3 421.7L640.2 421.2L641.0 420.6L641.8 420.1L642.6 419.6L643.4 419.2L644.2 418.7L645.0 418.2L646.1 417.7L647.1 417.1L648.2 416.7L649.3 416.4L650.4 416.3L651.4 416.0L652.5 415.9L653.6 415.9L654.6 416.0L655.7 416.4L656.8 416.8L657.9 416.9L658.9 417.1L660.0 417.4L660.9 417.6L661.9 418.2L662.8 419.0L663.8 419.4L664.7 419.6L665.6 420.4L666.6 421.5L667.5 422.1L668.3 422.6L669.0 423.3L669.8 424.1L670.6 424.9L671.3 425.7L672.1 426.5L672.8 427.3L673.6 428.3L674.3 429.3L675.0 430.2L675.6 430.8L676.1 431.6L676.7 432.5L677.2 433.3L677.7 434.2L678.3 435.1L678.8 435.9L679.3 436.9L679.8 438.0L680.3 439.1L680.8 440.4L681.2 441.5L681.7 442.3L682.1 443.3L682.5 444.3L682.9 445.3L683.3 446.4L683.6 447.5L684.0 448.2L684.4 449.0L684.8 450.0L685.1 451.0L685.5 451.8L685.8 452.7L686.2 453.8L686.5 454.9L686.8 456.1L687.1 457.3L687.4 458.2L687.7 459.0L688.0 459.8L688.2 460.7L688.5 461.6L688.8 462.6L689.0 463.6L689.3 464.4L689.5 465.2L689.8 466.4L690.0 467.6L690.3 468.6L690.5 469.7L690.7 470.5L690.9 471.3L691.0 472.4L691.2 473.5L691.4 474.6L691.5 475.6L691.7 476.5L691.8 477.4L692.0 478.2L692.1 479.2L692.3 480.3L692.4 481.2L692.6 482.1L692.8 483.1L692.9 484.4L693.1 485.6L693.2 486.7L693.4 487.9L693.6 489.1L693.8 490.3L693.9 491.2L694.0 492.1L694.1 492.9L694.3 493.8L694.4 494.7L694.5 495.6L694.7 496.5L694.8 497.5L695.0 498.4L695.1 499.5L695.2 500.6L695.4 501.7L695.5 502.9L695.7 503.9L695.8 505.0L695.9 506.0L696.1 507.0L696.2 508.3L696.4 509.5L696.5 510.4L696.7 511.4L696.8 512.4L696.9 513.4L697.1 514.4L697.2 515.4L697.4 516.5L697.5 517.5L697.6 518.5L697.8 519.4L697.9 520.4L698.1 521.4L698.2 522.6L698.3 523.8L698.5 524.8L698.6 525.8L698.8 526.8L698.9 527.9L699.1 529.1L699.2 530.3L699.3 531.4L699.5 532.3L699.6 533.3L699.8 534.5L699.9 535.6L700.0 536.5L700.2 537.4L700.3 538.6L700.5 539.7L700.6 540.6L700.7 541.5L700.9 542.3L701.0 543.0L701.1 543.8L701.2 544.9L701.4 546.4L701.6 547.4L701.8 548.4L701.9 549.3L702.1 550.4L702.3 551.7L702.5 553.0L702.6 554.1L702.8 555.1L703.0 555.9L703.1 556.8L703.3 557.9L703.4 558.9L703.6 559.9L703.8 561.0L703.9 561.9L704.1 562.9L704.2 563.7L704.4 564.5L704.5 565.3L704.8 566.8L705.0 568.2L705.3 569.6L705.5 570.7L705.8 571.4L706.0 572.5L706.2 573.5L706.5 574.3L706.7 574.8L707.0 574.9L707.3 574.8L707.6 574.4L707.8 573.7L708.1 572.6L708.4 571.3L708.7 570.6L709.0 569.5L709.3 568.2L709.7 566.5L710.0 564.9L710.2 564.1L710.3 563.3L710.5 562.4L710.7 561.5L710.9 560.6L711.1 559.7L711.3 558.8L711.4 557.8L711.6 556.8L711.8 555.8L712.0 554.7L712.2 553.5L712.4 552.4L712.6 551.4L712.8 550.5L713.0 549.3L713.2 548.2L713.4 547.2L713.6 546.3L713.8 545.1L713.9 544.1L714.1 542.9L714.3 541.8L714.4 540.7L714.6 539.7L714.8 538.8L714.9 537.9L715.1 536.9L715.3 535.8L715.5 534.7L715.6 533.8L715.8 532.8L716.0 531.8L716.1 530.8L716.3 529.6L716.5 528.5L716.6 527.3L716.8 526.1L717.0 525.1L717.2 524.2L717.3 523.4L717.5 522.6L717.7 521.4L717.9 520.2L718.1 519.2L718.3 518.4L718.4 517.3L718.6 516.1L718.8 515.0L719.0 514.1L719.2 512.9L719.4 511.7L719.6 510.7L719.8 509.8L720.0 508.7L720.2 507.4L720.3 506.3L720.5 505.6L720.7 505.0L720.9 504.2L721.1 503.4L721.2 502.6L721.5 501.0L721.8 499.7L722.1 498.5L722.4 497.4L722.7 496.3L722.9 495.3L723.2 494.3L723.5 493.2L723.7 492.2L724.0 491.4L724.2 490.8L724.5 490.1L725.1 488.3L725.7 487.3L726.3 486.8L726.9 486.4L727.5 485.8L728.7 485.1L730.0 485.3L731.2 486.2L731.9 486.9L732.5 487.7L733.1 488.2L733.8 488.8L734.4 489.8L735.0 490.9L735.4 491.9L735.8 492.9L736.1 493.7L736.5 494.5L736.9 495.5L737.3 496.5L737.7 497.6L738.0 498.8L738.4 499.9L738.8 501.1L739.0 501.9L739.2 502.8L739.5 503.6L739.7 504.5L740.0 505.4L740.2 506.6L740.5 507.8L740.7 508.6L740.9 509.4L741.1 510.5L741.4 511.7L741.6 512.7L741.8 513.6L742.0 514.9L742.1 515.9L742.3 516.8L742.4 517.5L742.5 518.3L742.7 519.3L742.8 520.3L742.9 521.4L743.1 522.5L743.2 523.5L743.3 524.4L743.4 525.3L743.5 526.2L743.7 527.2L743.8 528.4L743.9 529.6L744.0 530.7L744.1 531.8L744.3 532.9L744.4 534.0L744.5 534.9L744.6 535.8L744.7 536.8L744.8 537.9L745.0 538.9L745.1 539.9L745.2 540.9L745.3 541.7L745.4 542.7L745.5 543.9L745.6 545.0L745.8 546.0L745.9 547.0L746.0 548.2L746.1 549.3L746.2 550.3L746.3 551.3L746.4 552.3L746.5 553.3L746.7 554.2L746.8 555.0L746.9 556.1L747.0 557.4L747.1 558.5L747.2 559.5L747.3 560.5L747.5 561.5L747.6 562.5L747.7 563.6L747.8 564.7L747.9 565.7L748.0 566.7L748.1 567.9L748.2 569.1L748.4 570.2L748.5 571.3L748.6 572.3L748.7 573.3L748.8 574.2L748.9 575.1L749.0 576.3L749.2 577.5L749.3 578.5L749.4 579.3L749.5 580.1L749.6 581.1L749.8 582.2L749.9 583.4L750.1 584.5L750.2 585.5L750.4 586.6L750.5 587.8L750.7 589.0L750.8 590.2L751.0 591.3L751.1 592.3L751.3 593.3L751.4 594.1L751.6 594.8L751.7 595.6L751.9 596.3L752.0 597.2L752.2 598.7L752.5 600.1L752.8 601.3L753.0 602.3L753.2 603.1L753.5 603.9L753.8 604.9L754.0 605.9L754.2 606.8L754.5 607.7L754.8 608.8L755.0 609.9L755.3 611.0L755.5 612.0L755.8 612.9L756.1 613.8L756.3 614.9L756.5 615.9L756.8 616.9L757.0 617.9L757.5 619.5L757.9 620.4L758.3 621.1L758.8 621.0L759.0 620.4L759.2 619.8L759.5 619.2L759.7 618.2L760.0 616.7L760.2 615.1L760.5 613.7L760.8 612.4L760.9 611.4L761.1 610.2L761.3 609.1L761.5 608.2L761.7 607.1L761.9 605.9L762.2 604.7L762.4 603.6L762.6 602.6L762.8 601.8L763.0 601.2L764.2 599.5L765.5 600.1L765.9 600.6L766.4 601.3L766.8 602.0L767.2 602.9L767.6 604.5L768.0 606.1L768.1 606.7L768.3 607.4L768.4 608.4L768.5 609.4L768.6 610.5L768.8 611.6L768.9 612.8L769.0 613.9L769.1 615.1L769.2 616.4L769.4 617.7L769.5 618.9L769.6 619.9L769.7 620.9L769.9 621.6L770.0 622.3L770.3 624.1L770.5 625.6L770.8 626.9L771.0 628.4L771.3 629.6L771.6 630.5L771.9 631.2L772.2 631.7L772.5 631.9L772.9 631.6L773.2 631.0L773.6 630.1L774.0 628.9L774.4 627.5L774.8 626.0L775.1 624.6L775.5 623.7L776.0 622.4L776.5 621.1L777.0 620.0L777.5 619.3L778.0 619.0L778.4 619.4L778.9 620.1L779.4 621.5L779.8 622.9L780.3 624.2L780.8 625.0L782.0 624.6L783.2 623.7L783.9 624.6L784.6 625.9L785.2 627.2L785.9 627.3L786.1 627.0L786.3 626.4L786.5 625.4L786.8 624.3L787.0 623.1L787.2 621.9L787.4 621.0L787.6 620.0L787.8 618.7L788.0 617.5L788.2 616.3L788.4 615.2L788.6 614.1L788.8 612.9L789.0 611.7L789.2 610.3L789.4 608.9L789.6 607.8L789.8 606.7L790.0 605.6L790.2 604.6L790.4 603.7L790.6 603.0L790.8 602.4L791.8 601.4L792.8 602.4L793.1 603.1L793.5 604.4L793.8 605.7L794.2 606.7L794.6 607.2L795.0 606.7L795.4 605.7L795.8 604.3L796.3 603.0L796.8 602.3L797.7 602.1L798.7 602.7L799.8 603.7L800.5 604.8L801.4 606.3L802.2 607.3L803.0 607.8L803.7 607.5L804.3 606.9L805.0 605.6L805.6 604.3L806.2 603.5L806.8 602.7L807.3 601.6L807.8 600.4L808.3 599.3L808.8 598.9L809.1 599.1L809.4 599.7L809.7 600.6L810.0 601.7L810.3 603.0L810.6 605.1L810.7 606.0L810.9 606.8L811.0 607.6L811.1 608.6L811.2 609.6L811.4 610.8L811.5 612.0L811.6 613.1L811.7 614.3L811.9 615.5L812.0 616.7L812.1 617.7L812.3 618.7L812.4 619.5L812.5 620.2L812.9 621.8L813.2 622.9L813.5 623.8L813.9 624.5L814.2 625.2L814.9 625.8L815.7 626.1L816.4 627.7L816.6 628.4L816.7 629.0L816.9 629.6L817.1 630.2L817.2 631.4L817.4 632.6L817.6 633.7L817.7 634.8L817.9 636.0L818.1 637.2L818.3 638.4L818.4 639.6L818.6 641.0L818.7 641.9L818.8 642.8L818.9 643.8L819.1 644.8L819.2 645.8L819.3 646.9L819.4 648.0L819.5 649.0L819.6 650.0L819.8 651.1L819.9 652.2L820.0 653.4L820.1 654.5L820.2 655.5L820.3 656.4L820.5 657.6L820.6 658.7L820.7 659.5L820.8 660.4L820.9 661.1L821.0 661.7L821.3 663.4L821.6 665.0L821.9 666.5L822.1 667.6L822.4 668.3L822.7 668.6L823.0 668.6L823.3 668.3L823.5 667.8L823.8 667.2L824.1 666.3L824.4 664.9L824.6 663.4L824.9 662.0L825.2 660.8L825.5 659.9L825.9 658.6L826.2 657.3L826.6 656.1L827.0 655.0L827.3 654.0L827.7 653.3L828.0 652.9L828.5 653.0L829.0 653.9L829.5 655.3L830.0 657.6L830.1 658.4L830.3 659.2L830.4 660.1L830.6 661.2L830.7 662.4L830.9 663.3L831.0 664.1L831.2 665.2L831.3 666.6L831.5 667.7L831.6 668.7L831.8 669.6L831.9 670.5L832.1 671.4L832.2 672.3L832.6 673.9L832.9 675.2L833.3 676.8L833.6 678.2L834.0 679.4L834.4 680.3L834.8 680.5L835.2 680.3L835.7 679.3L836.1 678.2L836.6 676.9L837.1 675.7L837.5 674.7L838.4 673.2L839.2 672.4L840.0 672.4L840.6 673.0L841.2 673.8L841.8 674.9L842.5 676.3L842.9 677.1L843.2 677.8L843.6 678.7L844.0 679.6L844.4 680.5L844.8 681.9L845.1 683.3L845.5 684.1L845.9 685.2L846.4 686.2L846.8 687.2L847.1 688.1L847.6 688.7L848.0 689.2L849.0 689.0L850.1 688.0L851.0 686.8L852.0 685.7L853.0 685.2L853.8 685.9L854.6 687.2L855.5 687.5L856.0 686.9L856.5 686.0L857.0 684.9L857.5 683.7L858.0 682.5L858.5 681.3L858.9 680.3L859.3 679.4L859.6 678.5L860.0 677.7L860.4 676.7L860.8 675.7L861.3 674.7L861.8 673.7L862.3 672.9L862.9 672.1L863.6 671.3L864.3 670.9L865.0 670.3L865.6 669.5L866.2 668.5L866.8 667.2L867.0 666.4L867.2 665.3L867.5 664.1L867.6 663.1L867.8 662.2L868.0 661.3L868.2 660.4L868.3 659.3L868.5 658.1L868.6 657.0L868.8 656.0L868.9 654.8L869.1 653.6L869.2 652.5L869.4 651.6L869.6 650.7L869.8 649.8L869.9 648.7L870.1 647.5L870.2 646.3L870.4 645.4L870.6 644.7L870.8 643.8L870.9 642.8L871.1 641.8L871.2 640.7L871.4 639.6L871.6 638.5L871.8 637.4L871.9 636.7L872.0 636.0L872.1 635.0L872.2 633.8L872.4 632.9L872.5 632.0L872.6 630.9L872.7 629.7L872.8 628.5L873.0 627.4L873.1 626.4L873.2 625.5L873.3 624.6L873.5 623.7L873.6 622.7L873.7 621.5L873.8 620.4L874.0 619.5L874.1 618.6L874.2 617.6L874.4 616.7L874.5 615.6L874.7 614.4L874.8 613.3L875.0 612.3L875.1 611.3L875.3 610.2L875.4 609.2L875.6 608.3L875.7 607.4L875.9 606.5L876.0 605.5L876.2 604.4L876.3 603.3L876.5 602.2L876.6 601.1L876.8 600.1L876.9 599.2L877.1 598.2L877.2 597.4L877.5 596.3L877.7 595.3L877.9 594.2L878.1 592.8L878.3 591.7L878.5 590.9L878.8 589.8L879.0 588.5L879.2 587.3L879.4 586.5L879.6 585.7L879.9 584.9L880.1 584.2L880.3 583.5L880.5 582.8L881.0 581.2L881.6 579.5L882.1 578.5L882.6 577.8L883.1 577.4L883.5 577.3L884.0 577.7L884.4 578.5L884.8 579.5L885.1 580.7L885.5 582.1L885.6 583.1L885.8 584.3L885.9 585.5L886.0 586.8L886.1 587.6L886.2 588.4L886.3 589.8L886.4 591.2L886.6 592.0L886.7 593.0L886.8 594.5L886.9 595.7L887.0 596.3L887.2 597.7L887.4 599.5L887.6 601.1L887.9 602.2L888.1 602.8L888.3 603.2L888.5 603.1L888.6 602.9L888.8 602.5L888.9 601.9L889.0 601.1L889.2 600.3L889.3 599.3L889.4 597.8L889.6 596.5L889.7 595.3L889.9 593.8L890.0 592.4L890.1 591.8L890.2 591.1L890.2 590.1L890.3 589.0L890.4 587.9L890.5 586.9L890.6 585.9L890.6 585.0L890.7 584.0L890.8 583.0L890.9 582.0L891.0 580.7L891.1 579.5L891.2 578.5L891.3 577.5L891.3 576.5L891.4 575.5L891.5 574.4L891.6 573.3L891.8 572.3L891.9 571.1L892.0 570.1L892.2 569.2L892.3 568.1L892.5 566.9L892.6 565.7L892.8 564.5L892.9 563.6L893.1 562.8L893.2 561.8L893.4 560.8L893.6 559.8L893.7 558.9L893.9 557.9L894.1 557.0L894.2 556.1L894.6 554.8L894.9 553.5L895.3 552.4L895.6 551.4L896.0 550.3L896.4 549.3L896.7 548.3L897.1 547.5L897.5 546.8L898.7 545.6L899.8 545.4L901.0 545.6L902.1 545.8L903.1 546.5L904.2 547.7L904.7 548.2L905.2 548.8L905.8 549.6L906.3 550.8L906.8 552.0L907.4 553.1L908.0 554.1L908.5 554.8L909.0 555.5L909.6 556.2L910.1 556.9L910.7 557.8L911.3 558.7L911.9 559.4L912.4 560.1L913.0 561.0L913.5 561.9L913.9 562.9L914.4 564.0L914.8 565.0L915.3 565.5L915.7 566.1L916.2 567.0L916.6 568.0L917.1 569.2L917.5 570.4L918.0 571.3L918.4 572.0L918.8 572.9L919.2 573.8L919.5 574.7L919.9 575.6L920.3 576.6L920.7 577.9L921.1 579.1L921.5 579.8L921.8 580.6L922.2 581.6L922.6 582.7L923.0 583.5L923.4 584.3L923.7 585.5L924.1 586.7L924.5 587.7L924.8 588.5L925.2 589.5L925.6 590.6L925.9 591.6L926.3 592.7L926.7 593.7L927.0 594.6L927.4 595.4L927.7 596.3L928.0 597.2L928.3 598.2L928.6 599.3L928.8 600.5L929.1 601.7L929.4 603.0L929.6 604.1L929.9 604.9L930.1 605.8L930.3 607.0L930.6 608.1L930.8 609.1L931.1 610.1L931.3 611.0L931.5 611.9L931.8 612.6L932.3 613.8L932.8 615.1L933.3 616.1L933.9 616.9L934.4 617.5L935.0 618.1L936.0 618.7L937.2 618.9L938.3 619.2L939.2 620.1L939.8 621.0L940.2 622.0L940.6 623.1L940.9 624.4L941.3 625.7L941.8 626.4L942.2 627.0L942.7 628.8L943.2 630.4L943.7 631.2L944.2 631.8L944.8 632.2L945.6 631.9L946.4 631.1L947.3 630.0L948.0 629.1L949.0 628.1L950.0 628.5L950.4 629.3L950.9 630.5L951.4 631.7L951.9 632.0L952.5 633.0L953.0 634.4L953.4 635.9L953.9 637.5L954.3 638.5L954.8 639.6L955.2 640.9L955.7 641.8L956.2 641.9L957.3 641.5L958.3 640.9L959.4 640.0L960.5 638.6L961.8 638.1L963.1 638.2L964.2 638.3L965.3 638.0L966.3 637.6L967.2 637.6L967.9 638.4L968.5 639.7L969.2 640.3L970.0 639.9L970.4 639.3L970.7 638.4L971.1 637.4L971.5 636.3L971.9 634.8L972.4 633.2L972.8 632.8L973.3 632.3L973.8 631.3L974.2 630.5L975.2 629.3L976.2 628.6L977.2 629.0L978.2 629.6L979.2 628.8L980.0 627.9L980.8 627.2L981.4 626.7L981.9 625.7L982.4 624.4L983.0 623.3L983.7 622.3L984.4 621.8L985.2 621.5L986.0 620.9L986.8 619.7L987.3 618.9L988.0 618.5L988.6 617.6L989.2 616.1L989.8 615.0L990.4 614.4L991.0 613.8L992.2 612.6L993.2 612.2L994.2 612.0L995.4 611.7L996.5 611.5L997.5 612.0L998.4 613.4L999.2 614.6L1000.0 614.8L1000.4 614.2L1000.7 613.4L1001.1 612.4L1001.5 611.3L1001.8 610.3L1002.2 609.5L1002.5 607.8L1002.7 606.4L1002.9 605.3L1003.0 604.2L1003.2 603.2L1003.3 602.2L1003.5 600.8L1003.6 599.4L1003.8 598.0L1003.9 596.8L1004.1 596.3L1004.2 595.9L1004.9 596.4L1005.6 598.1L1006.2 598.5L1006.5 597.8L1006.7 596.7L1007.0 595.7L1007.2 594.5L1007.5 592.7L1007.7 591.5L1007.9 590.6L1008.0 589.8" stroke="#000" stroke-width="2.85"/>
</g>
<g stroke="#000" stroke-width="2.4" stroke-dasharray="10.4 6.8" fill="none">
<path d="M713.6 410V729"/>
<path d="M707.1 534V729"/>
</g>
<g stroke="#000" stroke-width="3" fill="none" stroke-linecap="butt">
<rect x="133.75" y="23.3" width="875.85" height="707.90"/>
<path d="M117.95 731.20H133.75M124.95 701.70H133.75M117.95 672.21H133.75M124.95 642.71H133.75M117.95 613.22H133.75M124.95 583.72H133.75M117.95 554.23H133.75M124.95 524.73H133.75M117.95 495.23H133.75M124.95 465.74H133.75M117.95 436.24H133.75M124.95 406.75H133.75M117.95 377.25H133.75M124.95 347.75H133.75M117.95 318.26H133.75M124.95 288.76H133.75M117.95 259.27H133.75M124.95 229.77H133.75M117.95 200.27H133.75M124.95 170.78H133.75M117.95 141.28H133.75M124.95 111.79H133.75M117.95 82.29H133.75M124.95 52.80H133.75M117.95 23.30H133.75M133.75 731.2V746.30M194.57 731.2V739.60M255.40 731.2V746.30M316.22 731.2V739.60M377.04 731.2V746.30M437.86 731.2V739.60M498.69 731.2V746.30M559.51 731.2V739.60M620.33 731.2V746.30M681.16 731.2V739.60M741.98 731.2V746.30M802.80 731.2V739.60M863.62 731.2V746.30M924.45 731.2V739.60M985.27 731.2V746.30"/>
</g>
<g font-family="'Liberation Sans', Arial, sans-serif" font-weight="bold" font-size="28px" fill="#000">
<text transform="translate(110.3 737.8) scale(0.963 1)" text-anchor="end">0</text>
<text transform="translate(110.3 678.8) scale(0.963 1)" text-anchor="end">10</text>
<text transform="translate(110.3 619.8) scale(0.963 1)" text-anchor="end">20</text>
<text transform="translate(110.3 560.8) scale(0.963 1)" text-anchor="end">30</text>
<text transform="translate(110.3 501.8) scale(0.963 1)" text-anchor="end">40</text>
<text transform="translate(110.3 442.8) scale(0.963 1)" text-anchor="end">50</text>
<text transform="translate(110.3 383.9) scale(0.963 1)" text-anchor="end">60</text>
<text transform="translate(110.3 324.9) scale(0.963 1)" text-anchor="end">70</text>
<text transform="translate(110.3 265.9) scale(0.963 1)" text-anchor="end">80</text>
<text transform="translate(110.3 206.9) scale(0.963 1)" text-anchor="end">90</text>
<text transform="translate(110.3 147.9) scale(0.963 1)" text-anchor="end">100</text>
<text transform="translate(110.3 88.9) scale(0.963 1)" text-anchor="end">110</text>
<text transform="translate(110.3 29.9) scale(0.963 1)" text-anchor="end">120</text>
<text transform="translate(133.8 775.4) scale(0.963 1)" text-anchor="middle">4000</text>
<text transform="translate(255.4 775.4) scale(0.963 1)" text-anchor="middle">3500</text>
<text transform="translate(377.0 775.4) scale(0.963 1)" text-anchor="middle">3000</text>
<text transform="translate(498.7 775.4) scale(0.963 1)" text-anchor="middle">2500</text>
<text transform="translate(620.3 775.4) scale(0.963 1)" text-anchor="middle">2000</text>
<text transform="translate(742.0 775.4) scale(0.963 1)" text-anchor="middle">1500</text>
<text transform="translate(863.6 775.4) scale(0.963 1)" text-anchor="middle">1000</text>
<text transform="translate(985.3 775.4) scale(0.963 1)" text-anchor="middle">500</text>
</g>
<g font-family="'Liberation Sans', Arial, sans-serif" font-weight="bold" font-size="40px" fill="#000">
<text id="xl" transform="translate(393.2 843.6) scale(0.977 1)">Wavenumber (cm<tspan font-size="23px" dy="-20.5">-1</tspan><tspan dy="20.5" dx="1.4">)</tspan></text>
<text id="yl" font-size="40.4px" transform="translate(38.1 573.2) rotate(-90) scale(0.974 1)">Transmittance (%)</text>
</g>
<g font-family="'Liberation Sans', Arial, sans-serif" fill="#000">
<text id="tc" x="446.5" y="89.5" font-size="35px" fill="#008000">c</text>
<text id="tb" x="487" y="310" font-size="34px" fill="#800000">b</text>
<text id="ta" x="499.5" y="519.5" font-size="35px">a</text>
<text id="toh" x="268.1" y="325.4" font-size="27.4px" font-weight="bold" stroke="#fff" stroke-width="0.5">OH</text>
<text id="talk" x="347.2" y="247.8" font-size="26.5px" font-weight="bold">alkyl chains</text>
<text id="tco" x="602.9" y="274.6" font-size="27.6px" font-weight="bold" word-spacing="-2.4px" stroke="#fff" stroke-width="0.45">C=O Ester</text>
</g>
</svg>
</body></html>
